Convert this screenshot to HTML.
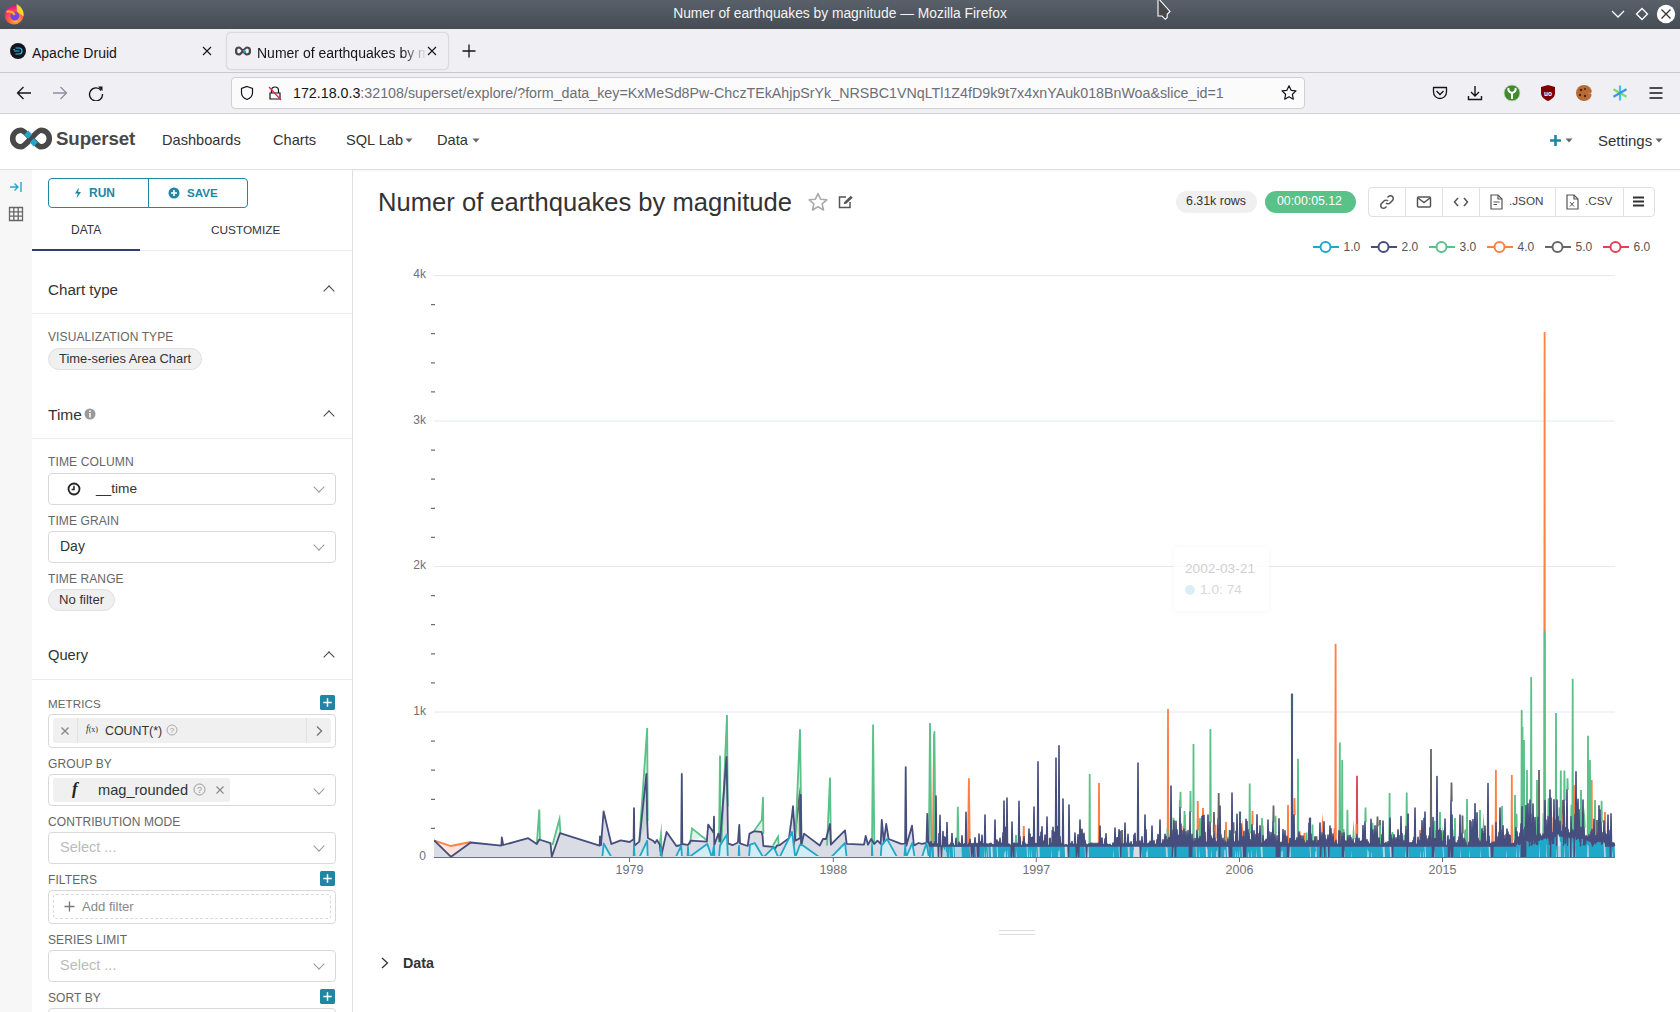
<!DOCTYPE html>
<html><head><meta charset="utf-8">
<style>
*{box-sizing:border-box;margin:0;padding:0}
html,body{width:1680px;height:1012px;overflow:hidden;background:#fff;font-family:"Liberation Sans",sans-serif;color:#333}
.a{position:absolute}
#titlebar{left:0;top:0;width:1680px;height:29px;background:linear-gradient(#58606a,#464c54);color:#f4f4f4;font-size:13.8px;text-align:center;line-height:28px}
#tabbar{left:0;top:29px;width:1680px;height:44px;background:#f0f0f4;border-bottom:1px solid #c8c8cc}
#toolbar{left:0;top:73px;width:1680px;height:41px;background:#f0f0f4;border-bottom:1px solid #cfcfd3}
.tab{font-size:14px;color:#15141a;white-space:nowrap;margin-top:1.5px}
#urlbox{left:231px;top:77px;width:1074px;height:32px;background:#fbfbfc;border:1px solid #cfcfd4;border-radius:4px}
#nav{left:0;top:114px;width:1680px;height:56px;background:#fff;border-bottom:1px solid #e0e0e0;box-shadow:0 1px 1px rgba(0,0,0,0.04)}
.navi{font-size:14.6px;color:#333;white-space:nowrap;top:132px}
#leftstrip{left:0;top:170px;width:32px;height:842px;background:#f7f7f7}
#sidebar{left:32px;top:170px;width:321px;height:842px;background:#fff;border-right:1px solid #e0e0e0}
.lbl{font-size:12px;color:#666;white-space:nowrap;letter-spacing:0.1px}
.sect{font-size:15.2px;color:#333;white-space:nowrap}
.hr{height:1px;background:#ececec}
.sel{border:1px solid #d9d9d9;border-radius:4px;background:#fff;height:32px;width:288px;left:48px}
.pill{background:#f0f0f0;border:1px solid #e0e0e0;border-radius:12px;font-size:12.9px;color:#333;height:22px;line-height:20px;padding:0 10px;white-space:nowrap}
.plus{width:15px;height:15px;background:#1f86a3;border-radius:2px;left:320px}
.chev{width:8px;height:8px;border-left:1.3px solid #444;border-top:1.3px solid #444;transform:rotate(45deg)}
.dchev{width:8px;height:8px;border-right:1px solid #999;border-bottom:1px solid #999;transform:rotate(45deg)}
</style></head><body>
<div id="titlebar" class="a">Numer of earthquakes by magnitude — Mozilla Firefox</div>
<div id="tabbar" class="a"></div>
<div id="toolbar" class="a"></div>

<!-- title bar icons -->
<svg class="a" style="left:3px;top:3px" width="22" height="22" viewBox="0 0 22 22">
<defs><radialGradient id="ffg" cx="0.6" cy="0.75" r="0.75"><stop offset="0" stop-color="#ffbd4f"/><stop offset="0.45" stop-color="#ff6a3a"/><stop offset="1" stop-color="#e31587"/></radialGradient></defs>
<circle cx="11" cy="12.2" r="9.4" fill="url(#ffg)"/><path d="M13.5 1 C19 4 21.5 9 20.4 13.5 L14 8.5 Z" fill="#ffd43b"/><circle cx="11.8" cy="13.2" r="4.4" fill="#7542e5"/><path d="M3.5 9 C7 7.5 10.5 9 11.5 12" stroke="#ffa436" stroke-width="2.4" fill="none"/>
</svg>
<svg class="a" style="left:1150px;top:-4px" width="26" height="28" viewBox="1150 -4 26 28"><path d="M1158 -2 L1158 16 L1162 16 L1165.3 19.3 L1167.2 17.4 L1167.2 14.3 L1170 11.5 Z" fill="#484848" stroke="#fff" stroke-width="1.1" stroke-linejoin="miter"/></svg>
<svg class="a" style="left:1610px;top:8px" width="16" height="12" viewBox="0 0 16 12"><path d="M2 3 L8 9 L14 3" stroke="#fff" stroke-width="1.3" fill="none"/></svg>
<svg class="a" style="left:1634px;top:6px" width="16" height="16" viewBox="0 0 16 16"><path d="M8 2.5 L13.5 8 L8 13.5 L2.5 8 Z" stroke="#fff" stroke-width="1.3" fill="none"/></svg>
<svg class="a" style="left:1656px;top:4px" width="20" height="20" viewBox="0 0 20 20"><circle cx="10" cy="10" r="9.2" fill="#fff"/><path d="M5.5 5.5 L14.5 14.5 M14.5 5.5 L5.5 14.5" stroke="#333" stroke-width="1.3"/></svg>
<!-- tabs -->
<svg class="a" style="left:10px;top:43px" width="16" height="16" viewBox="0 0 16 16"><circle cx="8" cy="8" r="8" fill="#15151e"/><path d="M5.5 5 H9 A3 3 0 0 1 9 11 H5.5 M4 8 H9.5 M3.5 6.5 H5" stroke="#29c5e8" stroke-width="1.2" fill="none"/></svg>
<div class="a tab" style="left:32px;top:43px">Apache Druid</div>
<svg class="a" style="left:201px;top:45px" width="12" height="12" viewBox="0 0 12 12"><path d="M2 2 L10 10 M10 2 L2 10" stroke="#15141a" stroke-width="1.1"/></svg>
<div class="a" style="left:227px;top:33px;width:221px;height:36px;border-radius:4px;background:#f0f0f4;box-shadow:0 0 2px rgba(0,0,0,0.35)"></div>
<svg class="a" style="left:235px;top:46px" width="16" height="10" viewBox="0 0 16 10"><path d="M4 1.5 C1.5 1.5 1 4 1 5 C1 6 1.5 8.5 4 8.5 C6.5 8.5 9.5 1.5 12 1.5 C14.5 1.5 15 4 15 5 C15 6 14.5 8.5 12 8.5 C9.5 8.5 6.5 1.5 4 1.5 Z" stroke="#484848" stroke-width="2.2" fill="none"/><path d="M8.6 4.2 L10.4 6.5" stroke="#20a7c9" stroke-width="2.2"/></svg>
<div class="a tab" style="left:257px;top:43px;width:170px;overflow:hidden;-webkit-mask-image:linear-gradient(90deg,#000 85%,transparent)">Numer of earthquakes by magnitude</div>
<svg class="a" style="left:426px;top:45px" width="12" height="12" viewBox="0 0 12 12"><path d="M2 2 L10 10 M10 2 L2 10" stroke="#15141a" stroke-width="1.1"/></svg>
<svg class="a" style="left:461px;top:43px" width="16" height="16" viewBox="0 0 16 16"><path d="M8 1.5 V14.5 M1.5 8 H14.5" stroke="#15141a" stroke-width="1.3"/></svg>
<!-- toolbar -->
<svg class="a" style="left:15px;top:85px" width="18" height="16" viewBox="0 0 18 16"><path d="M16 8 H2.5 M8.5 2 L2.5 8 L8.5 14" stroke="#15141a" stroke-width="1.3" fill="none"/></svg>
<svg class="a" style="left:51px;top:85px" width="18" height="16" viewBox="0 0 18 16"><path d="M2 8 H15.5 M9.5 2 L15.5 8 L9.5 14" stroke="#8f8f9d" stroke-width="1.3" fill="none"/></svg>
<svg class="a" style="left:87px;top:85px" width="18" height="16" viewBox="0 0 18 16"><path d="M14.2 5.5 A6.5 6.5 0 1 0 15.5 9" stroke="#15141a" stroke-width="1.4" fill="none"/><path d="M11 1.5 L15.5 1.5 L15.5 6 Z" fill="#15141a"/></svg>
<div id="urlbox" class="a"></div>
<svg class="a" style="left:239px;top:85px" width="16" height="16" viewBox="0 0 16 16"><path d="M8 1.5 L13.5 3.5 V8 C13.5 11.5 10.5 13.5 8 14.5 C5.5 13.5 2.5 11.5 2.5 8 V3.5 Z" stroke="#15141a" stroke-width="1.2" fill="none"/></svg>
<svg class="a" style="left:267px;top:85px" width="16" height="16" viewBox="0 0 16 16"><path d="M4.5 7.5 V5.5 A3.5 3.5 0 0 1 11.5 5.5 V7.5 M3 8 H13 V14 H3 Z" stroke="#15141a" stroke-width="1.2" fill="none"/><path d="M2 2 L14 15" stroke="#e22850" stroke-width="1.3"/></svg>
<div class="a" style="left:293px;top:85px;font-size:14.25px;white-space:nowrap;color:#15141a">172.18.0.3<span style="color:#6e6e76">:32108/superset/explore/?form_data_key=KxMeSd8Pw-ChczTEkAhjpSrYk_NRSBC1VNqLTl1Z4fD9k9t7x4xnYAuk018BnWoa&amp;slice_id=1</span></div>
<svg class="a" style="left:1280px;top:84px" width="18" height="18" viewBox="0 0 18 18"><path d="M9 1.8 L11.1 6.3 L16 6.9 L12.4 10.3 L13.3 15.2 L9 12.8 L4.7 15.2 L5.6 10.3 L2 6.9 L6.9 6.3 Z" stroke="#15141a" stroke-width="1.2" fill="none" stroke-linejoin="round"/></svg>
<svg class="a" style="left:1431px;top:85px" width="18" height="16" viewBox="0 0 18 16"><path d="M2.5 2.5 H15.5 V7 A6.5 6.5 0 0 1 2.5 7 Z" stroke="#15141a" stroke-width="1.3" fill="none" stroke-linejoin="round"/><path d="M5.5 6 L9 9.5 L12.5 6" stroke="#15141a" stroke-width="1.4" fill="none"/></svg>
<svg class="a" style="left:1466px;top:84px" width="18" height="18" viewBox="0 0 18 18"><path d="M9 2 V12 M5 8 L9 12 L13 8 M2.5 12 V15.5 H15.5 V12" stroke="#15141a" stroke-width="1.4" fill="none"/></svg>
<svg class="a" style="left:1503px;top:84px" width="18" height="18" viewBox="0 0 18 18"><circle cx="9" cy="9" r="8" fill="#3f8b2f" stroke="#c9d9c0" stroke-width="0.8"/><path d="M9 15 V9 M9 9 C6 8 5 6 5.5 4 M9 9 C12 8 13 6 12.5 4" stroke="#fff" stroke-width="2" fill="none"/></svg>
<svg class="a" style="left:1539px;top:84px" width="18" height="18" viewBox="0 0 18 18"><path d="M9 1 L16 3 V9 C16 13 12.5 15.5 9 17 C5.5 15.5 2 13 2 9 V3 Z" fill="#800000"/><text x="9" y="11.5" font-size="6.5" font-family="Liberation Sans" font-weight="700" fill="#fff" text-anchor="middle">uo</text></svg>
<svg class="a" style="left:1575px;top:84px" width="18" height="18" viewBox="0 0 18 18"><circle cx="9" cy="9" r="8" fill="#b86b35"/><path d="M17 5 A3 3 0 0 1 13 9 A3 3 0 0 1 16 14 L17 17 Z" fill="#f0f0f4"/><circle cx="6" cy="6" r="1.3" fill="#4a2a10"/><circle cx="5" cy="11" r="1.2" fill="#4a2a10"/><circle cx="10" cy="12" r="1.2" fill="#4a2a10"/><circle cx="10" cy="5" r="1" fill="#4a2a10"/></svg>
<svg class="a" style="left:1611px;top:84px" width="18" height="18" viewBox="0 0 18 18"><path d="M9 1.5 V16.5" stroke="#3ec1ef" stroke-width="2.2"/><path d="M2.5 5.2 L15.5 12.8" stroke="#7adf5a" stroke-width="2.2"/><path d="M15.5 5.2 L2.5 12.8" stroke="#3d8ff0" stroke-width="2.2"/></svg>
<svg class="a" style="left:1647px;top:85px" width="18" height="16" viewBox="0 0 18 16"><path d="M2.5 3 H15.5 M2.5 8 H15.5 M2.5 13 H15.5" stroke="#15141a" stroke-width="1.4"/></svg>
<div id="nav" class="a"></div>
<svg class="a" style="left:9px;top:127px" width="44" height="23" viewBox="0 0 44 23">
<path d="M12 3.2 A8.3 8.3 0 1 0 12 19.8 C17 19.8 27 3.2 32 3.2 A8.3 8.3 0 1 1 32 19.8 C27 19.8 17 3.2 12 3.2 Z" stroke="#484848" stroke-width="5.6" fill="none"/>
<path d="M17.2 5.6 L21.2 9.6 M22.8 13.4 L26.8 17.4" stroke="#20a7c9" stroke-width="5.8"/>
</svg>
<div class="a" style="left:56px;top:128px;font-size:18.7px;font-weight:700;color:#484848;white-space:nowrap;letter-spacing:-0.1px">Superset</div>
<div class="a navi" style="left:162px">Dashboards</div>
<div class="a navi" style="left:273px">Charts</div>
<div class="a navi" style="left:346px">SQL Lab</div>
<svg class="a" style="left:405px;top:138px" width="8" height="5"><path d="M0.5 0.5 H7.5 L4 4.5 Z" fill="#666"/></svg>
<div class="a navi" style="left:437px">Data</div>
<svg class="a" style="left:472px;top:138px" width="8" height="5"><path d="M0.5 0.5 H7.5 L4 4.5 Z" fill="#666"/></svg>
<svg class="a" style="left:1549px;top:134px" width="13" height="13" viewBox="0 0 13 13"><path d="M6.5 1 V12 M1 6.5 H12" stroke="#1f86a3" stroke-width="2.6"/></svg>
<svg class="a" style="left:1565px;top:138px" width="8" height="5"><path d="M0.5 0.5 H7.5 L4 4.5 Z" fill="#666"/></svg>
<div class="a navi" style="left:1598px;font-size:15px">Settings</div>
<svg class="a" style="left:1655px;top:138px" width="8" height="5"><path d="M0.5 0.5 H7.5 L4 4.5 Z" fill="#666"/></svg>

<div id="leftstrip" class="a"></div>
<div id="sidebar" class="a"></div>
<!-- left strip icons -->
<svg class="a" style="left:9px;top:181px" width="14" height="12" viewBox="0 0 14 12"><path d="M1 6 H9 M5.5 2.5 L9 6 L5.5 9.5 M12 1 V11" stroke="#20a7c9" stroke-width="1.4" fill="none"/></svg>
<svg class="a" style="left:8px;top:206px" width="16" height="16" viewBox="0 0 16 16"><path d="M1.5 1.5 H14.5 V14.5 H1.5 Z M1.5 5.8 H14.5 M1.5 10.2 H14.5 M5.8 1.5 V14.5 M10.2 1.5 V14.5" stroke="#666" stroke-width="1.3" fill="none"/></svg>
<!-- run/save -->
<div class="a" style="left:48px;top:178px;width:200px;height:30px;border:1px solid #1f86a3;border-radius:4px"></div>
<div class="a" style="left:148px;top:178px;width:1px;height:30px;background:#1f86a3"></div>
<svg class="a" style="left:74px;top:187px" width="8" height="12" viewBox="0 0 8 12"><path d="M5 0.5 L1 6.5 H3.8 L2.5 11.5 L7 5 H4.2 Z" fill="#1f86a3"/></svg>
<div class="a" style="left:89px;top:186px;font-size:12px;font-weight:700;color:#1f86a3">RUN</div>
<svg class="a" style="left:168px;top:187px" width="12" height="12" viewBox="0 0 12 12"><circle cx="6" cy="6" r="5.5" fill="#1f86a3"/><path d="M6 3 V9 M3 6 H9" stroke="#fff" stroke-width="1.6"/></svg>
<div class="a" style="left:187px;top:186px;font-size:11.6px;font-weight:700;color:#1f86a3">SAVE</div>
<!-- tabs -->
<div class="a" style="left:71px;top:223px;font-size:12px;color:#333">DATA</div>
<div class="a" style="left:211px;top:223px;font-size:11.8px;color:#333">CUSTOMIZE</div>
<div class="a hr" style="left:32px;top:250px;width:320px"></div>
<div class="a" style="left:32px;top:249px;width:108px;height:2px;background:#323e73"></div>
<!-- chart type -->
<div class="a sect" style="left:48px;top:281px">Chart type</div>
<div class="a chev" style="left:325px;top:287px"></div>
<div class="a hr" style="left:32px;top:313px;width:320px"></div>
<div class="a lbl" style="left:48px;top:330px">VISUALIZATION TYPE</div>
<div class="a pill" style="left:48px;top:348px;font-size:12.9px">Time-series Area Chart</div>
<!-- time -->
<div class="a sect" style="left:48px;top:406px;font-size:15.5px">Time</div>
<svg class="a" style="left:84px;top:408px" width="12" height="12" viewBox="0 0 12 12"><circle cx="6" cy="6" r="5.5" fill="#999"/><path d="M6 5 V9.5" stroke="#fff" stroke-width="1.5"/><circle cx="6" cy="3.2" r="0.9" fill="#fff"/></svg>
<div class="a chev" style="left:325px;top:412px"></div>
<div class="a hr" style="left:32px;top:438px;width:320px"></div>
<div class="a lbl" style="left:48px;top:455px;font-size:12.1px">TIME COLUMN</div>
<div class="a sel" style="top:473px"></div>
<svg class="a" style="left:67px;top:482px" width="14" height="14" viewBox="0 0 14 14"><circle cx="7" cy="7" r="5.5" stroke="#222" stroke-width="1.8" fill="none"/><path d="M7 3.8 V7.4 H4.6" stroke="#222" stroke-width="1.5" fill="none"/></svg>
<div class="a" style="left:96px;top:481px;font-size:13.7px;color:#333">__time</div>
<div class="a dchev" style="left:315px;top:483px"></div>
<div class="a lbl" style="left:48px;top:514px">TIME GRAIN</div>
<div class="a sel" style="top:531px"></div>
<div class="a" style="left:60px;top:538px;font-size:14px;color:#333">Day</div>
<div class="a dchev" style="left:315px;top:541px"></div>
<div class="a lbl" style="left:48px;top:572px">TIME RANGE</div>
<div class="a pill" style="left:48px;top:589px;font-size:13.1px;padding:0 10px">No filter</div>
<!-- query -->
<div class="a sect" style="left:48px;top:647px;font-size:14.7px">Query</div>
<div class="a chev" style="left:325px;top:653px"></div>
<div class="a hr" style="left:32px;top:679px;width:320px"></div>
<div class="a lbl" style="left:48px;top:697px;font-size:11.6px">METRICS</div>
<svg class="a plus" style="top:695px" width="16" height="16" viewBox="0 0 16 16"><rect width="16" height="16" rx="2" fill="#1f86a3"/><path d="M8 3.5 V12.5 M3.5 8 H12.5" stroke="#fff" stroke-width="1.6"/></svg>
<div class="a" style="left:48px;top:714px;width:288px;height:34px;border:1px solid #d9d9d9;border-radius:4px"></div>
<div class="a" style="left:53px;top:718px;width:278px;height:25px;background:#f0f0f0;border-radius:3px"></div>
<div class="a" style="left:77px;top:718px;width:1px;height:25px;background:#e0e0e0"></div>
<div class="a" style="left:306px;top:718px;width:1px;height:25px;background:#e0e0e0"></div>
<svg class="a" style="left:60px;top:726px" width="10" height="10" viewBox="0 0 10 10"><path d="M1.5 1.5 L8.5 8.5 M8.5 1.5 L1.5 8.5" stroke="#888" stroke-width="1.4"/></svg>
<div class="a" style="left:86px;top:724px;font-size:9.5px;font-style:italic;color:#333;font-family:'Liberation Serif',serif">f<span style="font-style:normal;font-size:8px">(x)</span></div>
<div class="a" style="left:105px;top:724px;font-size:12.4px;color:#333">COUNT(*)</div>
<svg class="a" style="left:166px;top:724px" width="12" height="12" viewBox="0 0 12 12"><circle cx="6" cy="6" r="5" stroke="#aaa" stroke-width="1" fill="none"/><text x="6" y="9" font-size="8" text-anchor="middle" fill="#999" font-family="Liberation Sans">?</text></svg>
<svg class="a" style="left:314px;top:725px" width="10" height="12" viewBox="0 0 10 12"><path d="M3 1.5 L7.5 6 L3 10.5" stroke="#777" stroke-width="1.4" fill="none"/></svg>
<div class="a lbl" style="left:48px;top:757px">GROUP BY</div>
<div class="a" style="left:48px;top:774px;width:288px;height:32px;border:1px solid #d9d9d9;border-radius:4px"></div>
<div class="a" style="left:53px;top:778px;width:177px;height:24px;background:#f0f0f0;border-radius:2px"></div>
<div class="a" style="left:72px;top:779px;font-size:17px;font-weight:700;font-style:italic;color:#222;font-family:'Liberation Serif',serif">f</div>
<div class="a" style="left:98px;top:782px;font-size:14.6px;color:#333">mag_rounded</div>
<svg class="a" style="left:193px;top:783px" width="13" height="13" viewBox="0 0 13 13"><circle cx="6.5" cy="6.5" r="5.5" stroke="#999" stroke-width="1" fill="none"/><text x="6.5" y="9.8" font-size="9" text-anchor="middle" fill="#999" font-family="Liberation Sans">?</text></svg>
<svg class="a" style="left:215px;top:785px" width="10" height="10" viewBox="0 0 10 10"><path d="M1.5 1.5 L8.5 8.5 M8.5 1.5 L1.5 8.5" stroke="#888" stroke-width="1.1"/></svg>
<div class="a dchev" style="left:315px;top:785px"></div>
<div class="a lbl" style="left:48px;top:815px">CONTRIBUTION MODE</div>
<div class="a sel" style="top:832px"></div>
<div class="a" style="left:60px;top:839px;font-size:14.5px;color:#bbb">Select ...</div>
<div class="a dchev" style="left:315px;top:842px"></div>
<div class="a lbl" style="left:48px;top:873px">FILTERS</div>
<svg class="a plus" style="top:871px" width="16" height="16" viewBox="0 0 16 16"><rect width="16" height="16" rx="2" fill="#1f86a3"/><path d="M8 3.5 V12.5 M3.5 8 H12.5" stroke="#fff" stroke-width="1.6"/></svg>
<div class="a" style="left:48px;top:890px;width:288px;height:34px;border:1px solid #d9d9d9;border-radius:4px"></div>
<div class="a" style="left:53px;top:894px;width:278px;height:25px;border:1px dashed #d9d9d9;border-radius:3px"></div>
<svg class="a" style="left:64px;top:901px" width="11" height="11" viewBox="0 0 11 11"><path d="M5.5 0.5 V10.5 M0.5 5.5 H10.5" stroke="#777" stroke-width="1.3"/></svg>
<div class="a" style="left:82px;top:899px;font-size:13.1px;color:#888">Add filter</div>
<div class="a lbl" style="left:48px;top:933px">SERIES LIMIT</div>
<div class="a sel" style="top:950px"></div>
<div class="a" style="left:60px;top:957px;font-size:14.5px;color:#bbb">Select ...</div>
<div class="a dchev" style="left:315px;top:960px"></div>
<div class="a lbl" style="left:48px;top:991px">SORT BY</div>
<svg class="a plus" style="top:989px" width="16" height="16" viewBox="0 0 16 16"><rect width="16" height="16" rx="2" fill="#1f86a3"/><path d="M8 3.5 V12.5 M3.5 8 H12.5" stroke="#fff" stroke-width="1.6"/></svg>
<div class="a" style="left:48px;top:1008px;width:288px;height:34px;border:1px solid #d9d9d9;border-radius:4px"></div>


<!-- chart header -->
<div class="a" style="left:378px;top:188px;font-size:25.6px;color:#333;white-space:nowrap">Numer of earthquakes by magnitude</div>
<svg class="a" style="left:807px;top:192px" width="22" height="20" viewBox="0 0 22 20"><path d="M11 1.5 L13.6 7.2 L19.8 7.8 L15.1 11.9 L16.5 18 L11 14.8 L5.5 18 L6.9 11.9 L2.2 7.8 L8.4 7.2 Z" stroke="#aaa" stroke-width="1.6" fill="none" stroke-linejoin="round"/></svg>
<svg class="a" style="left:837px;top:194px" width="18" height="16" viewBox="0 0 18 16"><path d="M9 3 H2.5 V13.5 H13 V8" stroke="#555" stroke-width="1.5" fill="none"/><path d="M6.8 10.2 L7.3 8 L13.8 1.8 L15.7 3.7 L9.2 9.8 Z" fill="#555"/></svg>
<div class="a" style="left:1176px;top:191px;width:81px;height:22px;border-radius:11px;background:#f0f0f0"></div>
<div class="a" style="left:1186px;top:194px;font-size:12.4px;color:#333;white-space:nowrap">6.31k rows</div>
<div class="a" style="left:1265px;top:191px;width:91px;height:22px;border-radius:11px;background:#5ac189"></div>
<div class="a" style="left:1277px;top:194px;font-size:12.3px;color:#fff;white-space:nowrap">00:00:05.12</div>
<div class="a" style="left:1368px;top:187px;width:287px;height:30px;border:1px solid #e0e0e0;border-radius:4px"></div>
<div class="a" style="left:1405px;top:188px;width:1px;height:28px;background:#e0e0e0"></div>
<div class="a" style="left:1442px;top:188px;width:1px;height:28px;background:#e0e0e0"></div>
<div class="a" style="left:1479px;top:188px;width:1px;height:28px;background:#e0e0e0"></div>
<div class="a" style="left:1555px;top:188px;width:1px;height:28px;background:#e0e0e0"></div>
<div class="a" style="left:1623px;top:188px;width:1px;height:28px;background:#e0e0e0"></div>
<svg class="a" style="left:1379px;top:194px" width="16" height="16" viewBox="0 0 16 16"><path d="M7 9 C8 10 10 10 11 9 L13.5 6.5 C14.5 5.5 14.5 3.5 13.5 2.5 C12.5 1.5 10.5 1.5 9.5 2.5 L8.5 3.5 M9 7 C8 6 6 6 5 7 L2.5 9.5 C1.5 10.5 1.5 12.5 2.5 13.5 C3.5 14.5 5.5 14.5 6.5 13.5 L7.5 12.5" stroke="#555" stroke-width="1.5" fill="none"/></svg>
<svg class="a" style="left:1416px;top:195px" width="16" height="14" viewBox="0 0 16 14"><rect x="1.5" y="2" width="13" height="10" rx="1" stroke="#555" stroke-width="1.5" fill="none"/><path d="M2 3 L8 7.5 L14 3" stroke="#555" stroke-width="1.5" fill="none"/></svg>
<svg class="a" style="left:1453px;top:195px" width="16" height="14" viewBox="0 0 16 14"><path d="M5 3 L1.5 7 L5 11 M11 3 L14.5 7 L11 11" stroke="#555" stroke-width="1.5" fill="none"/></svg>
<svg class="a" style="left:1490px;top:194px" width="13" height="16" viewBox="0 0 13 16"><path d="M1 1 H8 L12 5 V15 H1 Z" stroke="#555" stroke-width="1.2" fill="none"/><path d="M8 1 V5 H12" stroke="#555" stroke-width="1.2" fill="none"/><path d="M3.5 8 H9.5 M3.5 10.5 H7" stroke="#555" stroke-width="1.2"/></svg>
<div class="a" style="left:1509px;top:194px;font-size:11.7px;color:#444;white-space:nowrap">.JSON</div>
<svg class="a" style="left:1566px;top:194px" width="13" height="16" viewBox="0 0 13 16"><path d="M1 1 H8 L12 5 V15 H1 Z" stroke="#555" stroke-width="1.2" fill="none"/><path d="M8 1 V5 H12" stroke="#555" stroke-width="1.2" fill="none"/><path d="M4 8 L8 12.5 M8 8 L4 12.5" stroke="#555" stroke-width="1"/></svg>
<div class="a" style="left:1585px;top:194px;font-size:11.7px;color:#444;white-space:nowrap">.CSV</div>
<svg class="a" style="left:1632px;top:195px" width="13" height="13" viewBox="0 0 13 13"><path d="M1 2.5 H12 M1 6.5 H12 M1 10.5 H12" stroke="#333" stroke-width="2"/></svg>
<!-- bottom -->
<div class="a" style="left:999px;top:930px;width:36px;height:1px;background:#ddd"></div>
<div class="a" style="left:999px;top:934px;width:36px;height:1px;background:#ddd"></div>
<svg class="a" style="left:379px;top:956px" width="12" height="14" viewBox="0 0 12 14"><path d="M3 2 L8.5 7 L3 12" stroke="#333" stroke-width="1.3" fill="none"/></svg>
<div class="a" style="left:403px;top:955px;font-size:14.3px;font-weight:700;color:#333">Data</div>
<svg class="a" style="left:0;top:0" width="1680" height="1012" viewBox="0 0 1680 1012"><defs><clipPath id="cp"><rect x="434" y="250" width="1182" height="607.5"/></clipPath><clipPath id="cp2"><rect x="434" y="250" width="1182" height="605.9"/></clipPath></defs>
<path d="M434 275.5H1615" stroke="#e3e8f2" stroke-width="1"/>
<path d="M434 421H1615" stroke="#e3e8f2" stroke-width="1"/>
<path d="M434 566.5H1615" stroke="#e3e8f2" stroke-width="1"/>
<path d="M434 712H1615" stroke="#e3e8f2" stroke-width="1"/>
<path d="M431 828.4H435M431 799.3H435M431 770.2H435M431 741.1H435M431 682.9H435M431 653.8H435M431 624.7H435M431 595.6H435M431 537.4H435M431 508.3H435M431 479.2H435M431 450.1H435M431 391.9H435M431 362.8H435M431 333.7H435M431 304.6H435" stroke="#6e7079" stroke-width="1.2"/>
<text x="426" y="278.1" text-anchor="end" font-size="12" fill="#6e7079" font-family="Liberation Sans">4k</text>
<text x="426" y="423.6" text-anchor="end" font-size="12" fill="#6e7079" font-family="Liberation Sans">3k</text>
<text x="426" y="569.1" text-anchor="end" font-size="12" fill="#6e7079" font-family="Liberation Sans">2k</text>
<text x="426" y="714.6" text-anchor="end" font-size="12" fill="#6e7079" font-family="Liberation Sans">1k</text>
<text x="426" y="860.1" text-anchor="end" font-size="12" fill="#6e7079" font-family="Liberation Sans">0</text>
<g clip-path="url(#cp)">
<path d="M434 840.7L434.5 840.7L451 856.8L470.7 842.5L501.4 845.7L501.8 837.5L503.2 845L528.2 838.2L536.8 844L539.3 839.5L550.5 843.2L551.8 856.8L560 833.2L599.6 845.7L600 836.3L601 845.2L602.3 828.3L603.6 811.3L603.7 811.7L611.3 844L611.6 843.9L620.7 840.4L629.6 842L633.6 839.3L634 808.2L634.4 845.7L634.6 845.5L639.3 841.6L646.4 774L647.2 821L647.7 833.1L647.9 838L653 840.7L655 843L657 840L659.8 844.7L660.5 851.9L661 847L661.5 854.8L666.6 832L675.7 845L676.4 846L681.2 845L681.8 774L682 802L682.3 844L687.5 844.9L688 845L688.6 844L690.7 840.7L706.8 841.6L707.3 835.5L708.2 824.6L712 830.3L713.6 832.7L714 816.6L714.3 845L714.4 844.7L718.4 833.6L719 836.6L720 841.6L726.5 756.8L727 781.9L727.5 807L727.8 828.8L728 843.4L732.5 845.2L737.9 842.5L738.6 833.7L739 828.7L739.3 825L739.5 830.3L740 843.4L747.7 846L749 837L749.5 833.6L750 833.4L754 831.4L754.7 831.4L761.4 831.8L762.5 835.4L763.4 846L773.6 846.9L773.7 847L774.7 849.2L777 845.5L778.4 845.3L779.5 845.2L789 838.1L792 815.6L793 806.2L795.3 840.7L800 838.1L800.2 838L800.8 795L801.4 844.7L803 837.9L804 833.6L819.8 845.5L823 839L826 839L830 824L830.9 844.7L845 830.4L846.7 843.9L864 844.7L865.7 836L868 844.7L871.2 839L871.8 839.9L872 840.3L872.5 841.1L874.3 843.9L877.5 840.7L880.7 843.9L881.5 826.4L881.8 819.8L883.8 842.3L886.2 824L887 829L888.6 839L897.3 842.4L901.2 843.9L904.4 843.6L905.1 843.5L905.2 830.8L905.7 767.2L906 800.8L906.4 845.5L912 825.7L912.3 828.8L913.9 845.5L914.7 845.1L918.6 843L921.8 843.9L926.5 843L927.3 813.8L928.2 842.3L928.9 843L929 843L929 857.5L928.9 857.5L928.2 853.3L927.3 847.8L926.5 843L921.8 857.5L918.6 857.5L914.7 857.5L913.9 852.7L912.3 843L912 843.7L906.4 856.6L906 857.5L905.7 853L905.2 845.5L905.1 847L904.4 857.5L901.2 857.5L897.3 857.5L888.6 841.9L887 839L886.2 839.9L883.8 842.8L881.8 845.1L881.5 845.5L880.7 857.5L877.5 857.5L874.3 857.5L872.5 857.5L872 845.5L871.8 857.5L871.2 857.5L868 857.5L865.7 857.5L864 857.5L846.7 857.5L845 843L830.9 857.5L830 857.5L826 857.5L823 857.5L819.8 857.5L804 846.2L803 845.5L801.4 845.1L800.8 844.9L800.2 844.8L800 844.7L795.3 857.5L793 839.7L792 832L789 838.1L779.5 857.5L778.4 857.5L777 854.4L774.7 849.2L773.7 847L773.6 847.1L763.4 857.5L762.5 856L761.4 854.2L754.7 843L754 843.3L750 844.7L749.5 851.1L749 857.5L747.7 857.5L740 857.5L739.5 857.5L739.3 852.9L739 846L738.6 857.5L737.9 857.5L732.5 857.5L728 857.5L727.8 857.5L727.5 848.8L727 834.4L726.5 835.2L720 845.5L719 857.5L718.4 857.5L714.4 857.5L714.3 854.5L714 845.5L713.6 847.9L712 857.5L708.2 846.5L707.3 843.9L706.8 844.3L690.7 856L688.6 857.5L688 847L687.5 857.5L682.3 857.5L682 857.5L681.8 854.5L681.2 845.5L676.4 856L675.7 857.5L666.6 857.5L661.5 857.5L661 847L660.5 857.5L659.8 857.5L657 857.5L655 857.5L653 857.5L647.9 857.5L647.7 857.5L647.2 840.7L646.4 842.4L639.3 857.5L634.6 857.5L634.4 853.5L634 845.5L633.6 857.5L629.6 857.5L620.7 857.5L611.6 857.5L611.3 857L603.7 843.5L603.6 844.5L602.3 857.5L601 857.5L600 857.5L599.6 857.5L560 857.5L551.8 857.5L550.5 857.5L539.3 857.5L536.8 857.5L528.2 857.5L503.2 857.5L501.8 857.5L501.4 857.5L470.7 857.5L451 857.5L434.5 857.5L434 857.5Z" fill="#454E7C" fill-opacity="0.2"/>
<path d="M434 857.5L434.5 857.5L451 857.5L470.7 857.5L501.4 857.5L501.8 857.5L503.2 857.5L528.2 857.5L536.8 857.5L539.3 857.5L550.5 857.5L551.8 857.5L560 857.5L599.6 857.5L600 857.5L601 857.5L602.3 857.5L603.6 844.5L603.7 843.5L611.3 857L611.6 857.5L620.7 857.5L629.6 857.5L633.6 857.5L634 845.5L634.4 853.5L634.6 857.5L639.3 857.5L646.4 842.4L647.2 840.7L647.7 857.5L647.9 857.5L653 857.5L655 857.5L657 857.5L659.8 857.5L660.5 857.5L661 847L661.5 857.5L666.6 857.5L675.7 857.5L676.4 856L681.2 845.5L681.8 854.5L682 857.5L682.3 857.5L687.5 857.5L688 847L688.6 857.5L690.7 856L706.8 844.3L707.3 843.9L708.2 846.5L712 857.5L713.6 847.9L714 845.5L714.3 854.5L714.4 857.5L718.4 857.5L719 857.5L720 845.5L726.5 835.2L727 834.4L727.5 848.8L727.8 857.5L728 857.5L732.5 857.5L737.9 857.5L738.6 857.5L739 846L739.3 852.9L739.5 857.5L740 857.5L747.7 857.5L749 857.5L749.5 851.1L750 844.7L754 843.3L754.7 843L761.4 854.2L762.5 856L763.4 857.5L773.6 847.1L773.7 847L774.7 849.2L777 854.4L778.4 857.5L779.5 857.5L789 838.1L792 832L793 839.7L795.3 857.5L800 844.7L800.2 844.8L800.8 844.9L801.4 845.1L803 845.5L804 846.2L819.8 857.5L823 857.5L826 857.5L830 857.5L830.9 857.5L845 843L846.7 857.5L864 857.5L865.7 857.5L868 857.5L871.2 857.5L871.8 857.5L872 845.5L872.5 857.5L874.3 857.5L877.5 857.5L880.7 857.5L881.5 845.5L881.8 845.1L883.8 842.8L886.2 839.9L887 839L888.6 841.9L897.3 857.5L901.2 857.5L904.4 857.5L905.1 847L905.2 845.5L905.7 853L906 857.5L906.4 856.6L912 843.7L912.3 843L913.9 852.7L914.7 857.5L918.6 857.5L921.8 857.5L926.5 843L927.3 847.8L928.2 853.3L928.9 857.5L929 857.5L929 857.5L928.9 857.5L928.2 857.5L927.3 857.5L926.5 857.5L921.8 857.5L918.6 857.5L914.7 857.5L913.9 857.5L912.3 857.5L912 857.5L906.4 857.5L906 857.5L905.7 857.5L905.2 857.5L905.1 857.5L904.4 857.5L901.2 857.5L897.3 857.5L888.6 857.5L887 857.5L886.2 857.5L883.8 857.5L881.8 857.5L881.5 857.5L880.7 857.5L877.5 857.5L874.3 857.5L872.5 857.5L872 857.5L871.8 857.5L871.2 857.5L868 857.5L865.7 857.5L864 857.5L846.7 857.5L845 857.5L830.9 857.5L830 857.5L826 857.5L823 857.5L819.8 857.5L804 857.5L803 857.5L801.4 857.5L800.8 857.5L800.2 857.5L800 857.5L795.3 857.5L793 857.5L792 857.5L789 857.5L779.5 857.5L778.4 857.5L777 857.5L774.7 857.5L773.7 857.5L773.6 857.5L763.4 857.5L762.5 857.5L761.4 857.5L754.7 857.5L754 857.5L750 857.5L749.5 857.5L749 857.5L747.7 857.5L740 857.5L739.5 857.5L739.3 857.5L739 857.5L738.6 857.5L737.9 857.5L732.5 857.5L728 857.5L727.8 857.5L727.5 857.5L727 857.5L726.5 857.5L720 857.5L719 857.5L718.4 857.5L714.4 857.5L714.3 857.5L714 857.5L713.6 857.5L712 857.5L708.2 857.5L707.3 857.5L706.8 857.5L690.7 857.5L688.6 857.5L688 857.5L687.5 857.5L682.3 857.5L682 857.5L681.8 857.5L681.2 857.5L676.4 857.5L675.7 857.5L666.6 857.5L661.5 857.5L661 857.5L660.5 857.5L659.8 857.5L657 857.5L655 857.5L653 857.5L647.9 857.5L647.7 857.5L647.2 857.5L646.4 857.5L639.3 857.5L634.6 857.5L634.4 857.5L634 857.5L633.6 857.5L629.6 857.5L620.7 857.5L611.6 857.5L611.3 857.5L603.7 857.5L603.6 857.5L602.3 857.5L601 857.5L600 857.5L599.6 857.5L560 857.5L551.8 857.5L550.5 857.5L539.3 857.5L536.8 857.5L528.2 857.5L503.2 857.5L501.8 857.5L501.4 857.5L470.7 857.5L451 857.5L434.5 857.5L434 857.5Z" fill="#1FA8C9" fill-opacity="0.2"/>
<path d="M434 840.7L434.5 840.7L451 846L470.7 842L501.4 845.7L501.8 837.5L503.2 845L528.2 838.2L536.8 844L539.3 839.5L550.5 843.2L551.8 856.8L560 833.2L599.6 845.7L600 836.3L601 845.2L602.3 828.3L603.6 811.3L603.7 811.7L611.3 844L611.6 843.9L620.7 840.4L629.6 842L633.6 839.3L634 808.2L634.4 845.7L634.6 845.5L639.3 841.6L646.4 774L647.2 821L647.7 833.1L647.9 838L653 840.7L655 843L657 840L659.8 844.7L660.5 851.9L661 847L661.5 854.8L666.6 832L675.7 845L676.4 846L681.2 845L681.8 774L682 802L682.3 844L687.5 844.9L688 845L688.6 844L690.7 840.7L706.8 841.6L707.3 835.5L708.2 824.6L712 830.3L713.6 832.7L714 816.6L714.3 845L714.4 844.7L718.4 833.6L719 836.6L720 841.6L726.5 756.8L727 781.9L727.5 807L727.8 828.8L728 843.4L732.5 845.2L737.9 842.5L738.6 833.7L739 828.7L739.3 825L739.5 830.3L740 843.4L747.7 846L749 837L749.5 833.6L750 833.4L754 831.4L754.7 831.4L761.4 831.8L762.5 835.4L763.4 846L773.6 846.9L773.7 847L774.7 849.2L777 845.5L778.4 845.3L779.5 845.2L789 838.1L792 815.6L793 806.2L795.3 840.7L800 838.1L800.2 838L800.8 795L801.4 844.7L803 837.9L804 833.6L819.8 845.5L823 839L826 839L830 824L830.9 844.7L845 830.4L846.7 843.9L864 844.7L865.7 836L868 844.7L871.2 839L871.8 839.9L872 840.3L872.5 841.1L874.3 843.9L877.5 840.7L880.7 843.9L881.5 826.4L881.8 819.8L883.8 842.3L886.2 824L887 829L888.6 839L897.3 842.4L901.2 843.9L904.4 843.6L905.1 843.5L905.2 830.8L905.7 767.2L906 800.8L906.4 845.5L912 825.7L912.3 828.8L913.9 845.5L914.7 845.1L918.6 843L921.8 843.9L926.5 843L927.3 813.8L928.2 842.3L928.9 843L929 843L929 843L928.9 843L928.2 842.3L927.3 813.8L926.5 843L921.8 843.9L918.6 843L914.7 845.1L913.9 845.5L912.3 828.8L912 825.7L906.4 845.5L906 800.8L905.7 767.2L905.2 830.8L905.1 843.5L904.4 843.6L901.2 843.9L897.3 842.4L888.6 839L887 829L886.2 824L883.8 842.3L881.8 819.8L881.5 826.4L880.7 843.9L877.5 840.7L874.3 843.9L872.5 841.1L872 840.3L871.8 839.9L871.2 839L868 844.7L865.7 836L864 844.7L846.7 843.9L845 830.4L830.9 844.7L830 824L826 839L823 839L819.8 845.5L804 833.6L803 837.9L801.4 844.7L800.8 795L800.2 838L800 838.1L795.3 840.7L793 806.2L792 815.6L789 838.1L779.5 845.2L778.4 845.3L777 845.5L774.7 849.2L773.7 847L773.6 846.9L763.4 846L762.5 835.4L761.4 831.8L754.7 831.4L754 831.4L750 833.4L749.5 833.6L749 837L747.7 846L740 843.4L739.5 830.3L739.3 825L739 828.7L738.6 833.7L737.9 842.5L732.5 845.2L728 843.4L727.8 828.8L727.5 807L727 781.9L726.5 756.8L720 841.6L719 836.6L718.4 833.6L714.4 844.7L714.3 845L714 816.6L713.6 832.7L712 830.3L708.2 824.6L707.3 835.5L706.8 841.6L690.7 840.7L688.6 844L688 845L687.5 844.9L682.3 844L682 802L681.8 774L681.2 845L676.4 846L675.7 845L666.6 832L661.5 854.8L661 847L660.5 851.9L659.8 844.7L657 840L655 843L653 840.7L647.9 838L647.7 833.1L647.2 821L646.4 774L639.3 841.6L634.6 845.5L634.4 845.7L634 808.2L633.6 839.3L629.6 842L620.7 840.4L611.6 843.9L611.3 844L603.7 811.7L603.6 811.3L602.3 828.3L601 845.2L600 836.3L599.6 845.7L560 833.2L551.8 856.8L550.5 843.2L539.3 839.5L536.8 844L528.2 838.2L503.2 845L501.8 837.5L501.4 845.7L470.7 842.5L451 856.8L434.5 840.7L434 840.7Z" fill="#FF7F44" fill-opacity="0.2"/>
<path d="M929 846H1615V857.5H929Z" fill="#454E7C" fill-opacity="0.2"/>
<path d="M929 846L930 846L930 846L931 846L931 846L932 846L932 846L933 846L933 846L934 846L934 857.5L935 857.5L935 857.5L936 857.5L936 857.5L937 857.5L937 857.5L938 857.5L938 857.5L939 857.5L939 857.5L940 857.5L940 857.5L941 857.5L941 857.5L942 857.5L942 857.5L943 857.5L943 846L944 846L944 846L945 846L945 846L946 846L946 846L947 846L947 846L948 846L948 846L949 846L949 846L950 846L950 846L951 846L951 846L952 846L952 846L953 846L953 857.5L954 857.5L954 846L955 846L955 846L956 846L956 846L957 846L957 846L958 846L958 846L959 846L959 846L960 846L960 846L961 846L961 846L962 846L962 846L963 846L963 846L964 846L964 846L965 846L965 846L966 846L966 846L967 846L967 846L968 846L968 846L969 846L969 846L970 846L970 857.5L971 857.5L971 857.5L972 857.5L972 857.5L973 857.5L973 857.5L974 857.5L974 846L975 846L975 846L976 846L976 857.5L977 857.5L977 857.5L978 857.5L978 857.5L979 857.5L979 846L980 846L980 846L981 846L981 846L982 846L982 846L983 846L983 846L984 846L984 846L985 846L985 846L986 846L986 846L987 846L987 846L988 846L988 846L989 846L989 846L990 846L990 846L991 846L991 857.5L992 857.5L992 857.5L993 857.5L993 846L994 846L994 846L995 846L995 846L996 846L996 846L997 846L997 857.5L998 857.5L998 846L999 846L999 846L1000 846L1000 846L1001 846L1001 846L1002 846L1002 846L1003 846L1003 846L1004 846L1004 846L1005 846L1005 846L1006 846L1006 846L1007 846L1007 846L1008 846L1008 846L1009 846L1009 846L1010 846L1010 846L1011 846L1011 857.5L1012 857.5L1012 857.5L1013 857.5L1013 857.5L1014 857.5L1014 846L1015 846L1015 846L1016 846L1016 846L1017 846L1017 846L1018 846L1018 846L1019 846L1019 846L1020 846L1020 846L1021 846L1021 846L1022 846L1022 846L1023 846L1023 846L1024 846L1024 846L1025 846L1025 846L1026 846L1026 846L1027 846L1027 857.5L1028 857.5L1028 846L1029 846L1029 846L1030 846L1030 846L1031 846L1031 846L1032 846L1032 846L1033 846L1033 846L1034 846L1034 846L1035 846L1035 846L1036 846L1036 846L1037 846L1037 846L1038 846L1038 846L1039 846L1039 846L1040 846L1040 846L1041 846L1041 846L1042 846L1042 846L1043 846L1043 846L1044 846L1044 846L1045 846L1045 846L1046 846L1046 846L1047 846L1047 846L1048 846L1048 846L1049 846L1049 846L1050 846L1050 846L1051 846L1051 846L1052 846L1052 846L1053 846L1053 846L1054 846L1054 846L1055 846L1055 846L1056 846L1056 846L1057 846L1057 846L1058 846L1058 846L1059 846L1059 846L1060 846L1060 846L1061 846L1061 846L1062 846L1062 846L1063 846L1063 846L1064 846L1064 846L1065 846L1065 857.5L1066 857.5L1066 857.5L1067 857.5L1067 857.5L1068 857.5L1068 857.5L1069 857.5L1069 846L1070 846L1070 846L1071 846L1071 846L1072 846L1072 846L1073 846L1073 846L1074 846L1074 846L1075 846L1075 846L1076 846L1076 857.5L1077 857.5L1077 857.5L1078 857.5L1078 857.5L1079 857.5L1079 846L1080 846L1080 846L1081 846L1081 846L1082 846L1082 846L1083 846L1083 846L1084 846L1084 846L1085 846L1085 857.5L1086 857.5L1086 857.5L1087 857.5L1087 857.5L1088 857.5L1088 857.5L1089 857.5L1089 846L1090 846L1090 846L1091 846L1091 846L1092 846L1092 846L1093 846L1093 846L1094 846L1094 846L1095 846L1095 846L1096 846L1096 846L1097 846L1097 846L1098 846L1098 846L1099 846L1099 846L1100 846L1100 846L1101 846L1101 846L1102 846L1102 846L1103 846L1103 846L1104 846L1104 846L1105 846L1105 846L1106 846L1106 846L1107 846L1107 846L1108 846L1108 846L1109 846L1109 846L1110 846L1110 846L1111 846L1111 846L1112 846L1112 846L1113 846L1113 846L1114 846L1114 846L1115 846L1115 846L1116 846L1116 846L1117 846L1117 846L1118 846L1118 846L1119 846L1119 857.5L1120 857.5L1120 857.5L1121 857.5L1121 846L1122 846L1122 846L1123 846L1123 846L1124 846L1124 846L1125 846L1125 846L1126 846L1126 846L1127 846L1127 846L1128 846L1128 846L1129 846L1129 846L1130 846L1130 846L1131 846L1131 846L1132 846L1132 846L1133 846L1133 846L1134 846L1134 857.5L1135 857.5L1135 857.5L1136 857.5L1136 857.5L1137 857.5L1137 857.5L1138 857.5L1138 857.5L1139 857.5L1139 857.5L1140 857.5L1140 857.5L1141 857.5L1141 857.5L1142 857.5L1142 846L1143 846L1143 846L1144 846L1144 846L1145 846L1145 846L1146 846L1146 846L1147 846L1147 846L1148 846L1148 846L1149 846L1149 846L1150 846L1150 846L1151 846L1151 846L1152 846L1152 846L1153 846L1153 846L1154 846L1154 846L1155 846L1155 846L1156 846L1156 846L1157 846L1157 846L1158 846L1158 846L1159 846L1159 846L1160 846L1160 846L1161 846L1161 846L1162 846L1162 846L1163 846L1163 846L1164 846L1164 846L1165 846L1165 846L1166 846L1166 846L1167 846L1167 846L1168 846L1168 846L1169 846L1169 846L1170 846L1170 846L1171 846L1171 846L1172 846L1172 857.5L1173 857.5L1173 846L1174 846L1174 846L1175 846L1175 857.5L1176 857.5L1176 846L1177 846L1177 846L1178 846L1178 846L1179 846L1179 846L1180 846L1180 846L1181 846L1181 846L1182 846L1182 846L1183 846L1183 846L1184 846L1184 846L1185 846L1185 846L1186 846L1186 846L1187 846L1187 846L1188 846L1188 846L1189 846L1189 857.5L1190 857.5L1190 857.5L1191 857.5L1191 857.5L1192 857.5L1192 846L1193 846L1193 846L1194 846L1194 846L1195 846L1195 846L1196 846L1196 846L1197 846L1197 846L1198 846L1198 846L1199 846L1199 846L1200 846L1200 846L1201 846L1201 846L1202 846L1202 846L1203 846L1203 846L1204 846L1204 846L1205 846L1205 846L1206 846L1206 857.5L1207 857.5L1207 846L1208 846L1208 846L1209 846L1209 846L1210 846L1210 846L1211 846L1211 846L1212 846L1212 846L1213 846L1213 846L1214 846L1214 846L1215 846L1215 846L1216 846L1216 846L1217 846L1217 846L1218 846L1218 846L1219 846L1219 857.5L1220 857.5L1220 846L1221 846L1221 846L1222 846L1222 846L1223 846L1223 846L1224 846L1224 846L1225 846L1225 846L1226 846L1226 846L1227 846L1227 846L1228 846L1228 846L1229 846L1229 857.5L1230 857.5L1230 857.5L1231 857.5L1231 857.5L1232 857.5L1232 846L1233 846L1233 846L1234 846L1234 846L1235 846L1235 846L1236 846L1236 846L1237 846L1237 846L1238 846L1238 846L1239 846L1239 846L1240 846L1240 846L1241 846L1241 846L1242 846L1242 857.5L1243 857.5L1243 857.5L1244 857.5L1244 857.5L1245 857.5L1245 857.5L1246 857.5L1246 846L1247 846L1247 846L1248 846L1248 846L1249 846L1249 846L1250 846L1250 846L1251 846L1251 846L1252 846L1252 846L1253 846L1253 846L1254 846L1254 846L1255 846L1255 846L1256 846L1256 846L1257 846L1257 846L1258 846L1258 846L1259 846L1259 846L1260 846L1260 846L1261 846L1261 846L1262 846L1262 846L1263 846L1263 846L1264 846L1264 846L1265 846L1265 846L1266 846L1266 846L1267 846L1267 846L1268 846L1268 846L1269 846L1269 846L1270 846L1270 846L1271 846L1271 846L1272 846L1272 846L1273 846L1273 846L1274 846L1274 846L1275 846L1275 846L1276 846L1276 857.5L1277 857.5L1277 857.5L1278 857.5L1278 857.5L1279 857.5L1279 857.5L1280 857.5L1280 846L1281 846L1281 846L1282 846L1282 846L1283 846L1283 846L1284 846L1284 846L1285 846L1285 846L1286 846L1286 846L1287 846L1287 857.5L1288 857.5L1288 857.5L1289 857.5L1289 846L1290 846L1290 846L1291 846L1291 846L1292 846L1292 846L1293 846L1293 846L1294 846L1294 846L1295 846L1295 846L1296 846L1296 846L1297 846L1297 846L1298 846L1298 846L1299 846L1299 846L1300 846L1300 846L1301 846L1301 846L1302 846L1302 846L1303 846L1303 846L1304 846L1304 846L1305 846L1305 846L1306 846L1306 846L1307 846L1307 846L1308 846L1308 846L1309 846L1309 846L1310 846L1310 846L1311 846L1311 846L1312 846L1312 846L1313 846L1313 846L1314 846L1314 846L1315 846L1315 846L1316 846L1316 846L1317 846L1317 846L1318 846L1318 846L1319 846L1319 846L1320 846L1320 857.5L1321 857.5L1321 846L1322 846L1322 846L1323 846L1323 846L1324 846L1324 857.5L1325 857.5L1325 846L1326 846L1326 846L1327 846L1327 857.5L1328 857.5L1328 857.5L1329 857.5L1329 846L1330 846L1330 846L1331 846L1331 846L1332 846L1332 846L1333 846L1333 846L1334 846L1334 846L1335 846L1335 846L1336 846L1336 846L1337 846L1337 846L1338 846L1338 846L1339 846L1339 846L1340 846L1340 846L1341 846L1341 846L1342 846L1342 857.5L1343 857.5L1343 857.5L1344 857.5L1344 846L1345 846L1345 846L1346 846L1346 846L1347 846L1347 846L1348 846L1348 846L1349 846L1349 846L1350 846L1350 846L1351 846L1351 846L1352 846L1352 846L1353 846L1353 846L1354 846L1354 846L1355 846L1355 846L1356 846L1356 846L1357 846L1357 846L1358 846L1358 846L1359 846L1359 846L1360 846L1360 846L1361 846L1361 846L1362 846L1362 846L1363 846L1363 846L1364 846L1364 846L1365 846L1365 846L1366 846L1366 846L1367 846L1367 846L1368 846L1368 846L1369 846L1369 846L1370 846L1370 846L1371 846L1371 846L1372 846L1372 846L1373 846L1373 846L1374 846L1374 846L1375 846L1375 846L1376 846L1376 846L1377 846L1377 846L1378 846L1378 846L1379 846L1379 846L1380 846L1380 846L1381 846L1381 846L1382 846L1382 846L1383 846L1383 846L1384 846L1384 857.5L1385 857.5L1385 846L1386 846L1386 846L1387 846L1387 846L1388 846L1388 846L1389 846L1389 846L1390 846L1390 846L1391 846L1391 846L1392 846L1392 857.5L1393 857.5L1393 846L1394 846L1394 846L1395 846L1395 846L1396 846L1396 846L1397 846L1397 846L1398 846L1398 846L1399 846L1399 846L1400 846L1400 846L1401 846L1401 846L1402 846L1402 846L1403 846L1403 846L1404 846L1404 846L1405 846L1405 846L1406 846L1406 846L1407 846L1407 857.5L1408 857.5L1408 846L1409 846L1409 846L1410 846L1410 846L1411 846L1411 846L1412 846L1412 846L1413 846L1413 846L1414 846L1414 846L1415 846L1415 846L1416 846L1416 846L1417 846L1417 846L1418 846L1418 846L1419 846L1419 846L1420 846L1420 846L1421 846L1421 846L1422 846L1422 846L1423 846L1423 846L1424 846L1424 846L1425 846L1425 857.5L1426 857.5L1426 846L1427 846L1427 846L1428 846L1428 846L1429 846L1429 846L1430 846L1430 846L1431 846L1431 846L1432 846L1432 857.5L1433 857.5L1433 857.5L1434 857.5L1434 846L1435 846L1435 846L1436 846L1436 846L1437 846L1437 846L1438 846L1438 846L1439 846L1439 846L1440 846L1440 846L1441 846L1441 846L1442 846L1442 846L1443 846L1443 846L1444 846L1444 846L1445 846L1445 846L1446 846L1446 846L1447 846L1447 846L1448 846L1448 857.5L1449 857.5L1449 857.5L1450 857.5L1450 857.5L1451 857.5L1451 857.5L1452 857.5L1452 857.5L1453 857.5L1453 846L1454 846L1454 846L1455 846L1455 846L1456 846L1456 846L1457 846L1457 846L1458 846L1458 846L1459 846L1459 846L1460 846L1460 846L1461 846L1461 846L1462 846L1462 846L1463 846L1463 846L1464 846L1464 846L1465 846L1465 846L1466 846L1466 846L1467 846L1467 846L1468 846L1468 846L1469 846L1469 846L1470 846L1470 846L1471 846L1471 846L1472 846L1472 846L1473 846L1473 846L1474 846L1474 846L1475 846L1475 846L1476 846L1476 846L1477 846L1477 846L1478 846L1478 846L1479 846L1479 846L1480 846L1480 846L1481 846L1481 846L1482 846L1482 846L1483 846L1483 846L1484 846L1484 846L1485 846L1485 846L1486 846L1486 846L1487 846L1487 846L1488 846L1488 846L1489 846L1489 846L1490 846L1490 846L1491 846L1491 857.5L1492 857.5L1492 857.5L1493 857.5L1493 846L1494 846L1494 846L1495 846L1495 846L1496 846L1496 846L1497 846L1497 846L1498 846L1498 846L1499 846L1499 846L1500 846L1500 846L1501 846L1501 846L1502 846L1502 846L1503 846L1503 846L1504 846L1504 846L1505 846L1505 846L1506 846L1506 846L1507 846L1507 846L1508 846L1508 846L1509 846L1509 846L1510 846L1510 846L1511 846L1511 846L1512 846L1512 846L1513 846L1513 846L1514 846L1514 846L1515 846L1515 846L1516 846L1516 844.1L1517 844.1L1517 842.7L1518 842.7L1518 844.2L1519 844.2L1519 844.1L1520 844.1L1520 843.8L1521 843.8L1521 857.5L1522 857.5L1522 857.5L1523 857.5L1523 857.5L1524 857.5L1524 857.5L1525 857.5L1525 857.5L1526 857.5L1526 839.7L1527 839.7L1527 840.5L1528 840.5L1528 840.6L1529 840.6L1529 845.7L1530 845.7L1530 841.3L1531 841.3L1531 844.9L1532 844.9L1532 844.1L1533 844.1L1533 838L1534 838L1534 843.6L1535 843.6L1535 841.4L1536 841.4L1536 844.2L1537 844.2L1537 844.6L1538 844.6L1538 840.3L1539 840.3L1539 839.9L1540 839.9L1540 837.5L1541 837.5L1541 839.4L1542 839.4L1542 839.4L1543 839.4L1543 837.9L1544 837.9L1544 837.8L1545 837.8L1545 837.5L1546 837.5L1546 838.6L1547 838.6L1547 836.9L1548 836.9L1548 836.8L1549 836.8L1549 844.2L1550 844.2L1550 857.5L1551 857.5L1551 837.4L1552 837.4L1552 843.4L1553 843.4L1553 843.2L1554 843.2L1554 836.6L1555 836.6L1555 835.9L1556 835.9L1556 845.2L1557 845.2L1557 834.1L1558 834.1L1558 833.3L1559 833.3L1559 835.7L1560 835.7L1560 835.5L1561 835.5L1561 836.3L1562 836.3L1562 836.3L1563 836.3L1563 845.1L1564 845.1L1564 833.6L1565 833.6L1565 843.3L1566 843.3L1566 836.3L1567 836.3L1567 845.1L1568 845.1L1568 836L1569 836L1569 857.5L1570 857.5L1570 857.5L1571 857.5L1571 837.7L1572 837.7L1572 836L1573 836L1573 838.1L1574 838.1L1574 857.5L1575 857.5L1575 835.9L1576 835.9L1576 839.2L1577 839.2L1577 838.4L1578 838.4L1578 837.6L1579 837.6L1579 837.9L1580 837.9L1580 845.7L1581 845.7L1581 837.9L1582 837.9L1582 838.1L1583 838.1L1583 844.8L1584 844.8L1584 844.8L1585 844.8L1585 843.4L1586 843.4L1586 839.4L1587 839.4L1587 840L1588 840L1588 840.6L1589 840.6L1589 840.3L1590 840.3L1590 841.6L1591 841.6L1591 844L1592 844L1592 845.9L1593 845.9L1593 844.2L1594 844.2L1594 841.9L1595 841.9L1595 843.5L1596 843.5L1596 842.3L1597 842.3L1597 841.1L1598 841.1L1598 841L1599 841L1599 841.5L1600 841.5L1600 841.5L1601 841.5L1601 844.2L1602 844.2L1602 843.3L1603 843.3L1603 841L1604 841L1604 842.1L1605 842.1L1605 846L1606 846L1606 846L1607 846L1607 846L1608 846L1608 846L1609 846L1609 846L1610 846L1610 857.5L1611 857.5L1611 846L1612 846L1612 846L1613 846L1613 846L1614 846L1614 846L1615 846L1615 857.5L929 857.5Z" fill="#1FA8C9" fill-opacity="0.2"/>
<path d="M536.8 844L539.3 809.5L540 839L540 839.7L539.3 839.5L536.8 844Z" fill="#5AC189" fill-opacity="0.2"/>
<path d="M552.5 845L559.5 819L560.5 833.5L560.5 833.4L559.5 834.6L552.5 854.8Z" fill="#5AC189" fill-opacity="0.2"/>
<path d="M639.3 840.7L647.2 728L647.7 821L647.7 833.1L647.2 821L639.3 841.6Z" fill="#5AC189" fill-opacity="0.2"/>
<path d="M659.8 844.7L661 834.4L661.8 857L661.8 853.4L661 847L659.8 844.7Z" fill="#5AC189" fill-opacity="0.2"/>
<path d="M690 844.7L692 828.4L707.3 840.7L707.3 835.5L692 840.8L690 841.8Z" fill="#5AC189" fill-opacity="0.2"/>
<path d="M719 842L720 755.6L720.7 844L721.5 842L727 715L727.8 806.7L727.8 828.8L727 781.9L721.5 822L720.7 832.5L720 841.6L719 836.6Z" fill="#5AC189" fill-opacity="0.2"/>
<path d="M754 831L761.8 820L763 797L763.4 834L763.4 846L763 841.3L761.8 833.1L754 831.4Z" fill="#5AC189" fill-opacity="0.2"/>
<path d="M773 845.5L778 836.8L778.7 844.7L778.7 845.3L778 845.4L773 846.8Z" fill="#5AC189" fill-opacity="0.2"/>
<path d="M795.3 840.7L800 729.2L801.6 844.7L801.6 843.8L800 838.1L795.3 840.7Z" fill="#5AC189" fill-opacity="0.2"/>
<path d="M827 845.5L830 777.5L830.9 844.7L830.9 844.7L830 824L827 835.2Z" fill="#5AC189" fill-opacity="0.2"/>
<path d="M872 844.7L873.1 724.5L874.3 844.7L874.3 843.9L873.1 842L872 840.3Z" fill="#5AC189" fill-opacity="0.2"/>
<path d="M793.7 845.5L799.2 798L801 844L801 811.6L799.2 838.6L793.7 816.7Z" fill="#666666" fill-opacity="0.2"/>
<path d="M932.8 845.5L934.1 734L935 845L935 843L934.1 843L932.8 843Z" fill="#FF7F44" fill-opacity="0.2"/>
<path d="M928.9 845.5L930 723L931.3 844.7L931.3 843L930 843L928.9 843Z" fill="#5AC189" fill-opacity="0.2"/>
<path d="M933.6 844.7L934.4 731.3L935.2 845L935.2 843L934.4 843L933.6 843Z" fill="#5AC189" fill-opacity="0.2"/>
<path d="M968 844.7L968.9 778.3L969.8 845L969.8 843L968.9 843L968 843Z" fill="#FF7F44" fill-opacity="0.2"/>
<path d="M957.3 844.7L957.8 806.7L958.6 845L958.6 843L957.8 843L957.3 843Z" fill="#5AC189" fill-opacity="0.2"/>
<path d="M1356.7 834.5L1357 775.8L1357.3 834.5" stroke="#E04355" stroke-width="1.8" fill="none" stroke-linejoin="miter" stroke-miterlimit="20"/>
<path d="M1218.4 819.2L1218.7 793L1219 819.2M1430.7 839.9L1431 749L1431.3 839.9M1213.7 831.8L1214 812L1214.3 831.8M1224.7 841L1225 830L1225.3 841M1049.7 838.4L1050 845L1050.3 838.4M1339.7 844.5L1340 810L1340.3 844.5M1379.7 844.9L1380 820L1380.3 844.9M1514.7 840.3L1515 815L1515.3 840.3M1538.7 834.3L1539 770L1539.3 834.3M1562.7 824.9L1563 800L1563.3 824.9M1574.7 814.5L1575 810L1575.3 814.5M1596.7 833.9L1597 820L1597.3 833.9M1469.7 842.8L1470 820L1470.3 842.8M1399.7 844.2L1400 835L1400.3 844.2M1309.7 818L1310 842L1310.3 818M1252.7 842.9L1253 835L1253.3 842.9M1121.7 846L1122 830L1122.3 846M1097.7 843.3L1098 845L1098.3 843.3M1039.7 843L1040 836L1040.3 843M1233.2 833.5L1233.5 822.2L1233.8 833.5M1262.2 843.4L1262.5 825.4L1262.8 843.4M1273.2 822.4L1273.5 805.4L1273.8 822.4M1316.2 844.3L1316.5 836.2L1316.8 844.3M1377.2 826.2L1377.5 816.6L1377.8 826.2M1434.2 838.5L1434.5 830L1434.8 838.5M1451.2 801.4L1451.5 782.5L1451.8 801.4M1462.2 833.4L1462.5 815.5L1462.8 833.4M1465.2 840.2L1465.5 830.8L1465.8 840.2M1580.2 840.6L1580.5 833.9L1580.8 840.6M1581.2 827.4L1581.5 813.5L1581.8 827.4M793.7 845.5L799.2 798L801 844" stroke="#666666" stroke-width="1.8" fill="none" stroke-linejoin="miter" stroke-miterlimit="20"/>
<path d="M1098.7 844.2L1099 783L1099.3 844.2M1167.7 839.2L1168 709L1168.3 839.2M1197.5 830.2L1197.8 801L1198.1 830.2M1287.7 843.6L1288 805L1288.3 843.6M1023.4 841.5L1023.8 826L1024.1 841.5M1335.2 845L1335.6 643.7L1335.9 845M1495.6 844.8L1495.9 770L1496.2 844.8M1511.5 843.7L1511.8 775L1512.1 843.7M1573.7 834.2L1574 785L1574.3 834.2M1591.4 832L1591.7 780L1592 832M1544.2 836.8L1544.6 332L1544.9 836.8M1184.7 838.1L1185 815L1185.3 838.1M1202.7 815.6L1203 808L1203.3 815.6M1225.7 842.4L1226 822L1226.3 842.4M1419.7 843.8L1420 830L1420.3 843.8M1351.7 845.1L1352 850L1352.3 845.1M1299.7 836.8L1300 835L1300.3 836.8M1604.7 832L1605 812L1605.3 832M1183.2 843.4L1183.5 825.9L1183.8 843.4M1215.2 838.6L1215.5 824.8L1215.8 838.6M1242.2 842L1242.5 836.1L1242.8 842M1252.2 824.7L1252.5 811.1L1252.8 824.7M1294.2 815.1L1294.5 798L1294.8 815.1M1304.2 840.6L1304.5 833L1304.8 840.6M1322.2 833L1322.5 827.9L1322.8 833M1334.2 842L1334.5 828.3L1334.8 842M1356.2 838.6L1356.5 824.1L1356.8 838.6M1492.2 842.4L1492.5 824.8L1492.8 842.4M1553.2 832.6L1553.5 816.8L1553.8 832.6M1561.2 832L1561.5 813.7L1561.8 832M932.8 845.5L934.1 734L935 845M968 844.7L968.9 778.3L969.8 845" stroke="#FF7F44" stroke-width="1.8" fill="none" stroke-linejoin="miter" stroke-miterlimit="20"/>
<path d="M1089.4 843.9L1089.7 774L1090 843.9M1193.2 839.3L1193.5 744L1193.8 839.3M1210.1 822.4L1210.4 729L1210.8 822.4M1249.4 833.5L1249.7 783.6L1250 833.5M1291.7 694L1292 770.6L1292.3 694M1297.7 842.9L1298 758.7L1298.3 842.9M1015.6 845.3L1016 835L1016.4 845.3M1051.7 843L1052 830L1052.3 843M1119.7 831.2L1120 832L1120.3 831.2M1179.7 808L1180 800L1180.3 808M1199.7 836.6L1200 818L1200.3 836.6M1239.7 812L1240 820L1240.3 812M1261.7 843.4L1262 818L1262.3 843.4M1339.5 830.7L1339.8 742.6L1340.1 830.7M1341.9 833.2L1342.2 760L1342.5 833.2M1347.1 841.4L1347.4 809.7L1347.8 841.4M1389.2 844.9L1389.6 793L1389.9 844.9M1406.4 826.5L1406.7 792.4L1407 826.5M1466.7 845.6L1467 799L1467.3 845.6M1521.4 824.1L1521.7 710L1522 824.1M1522.2 806.7L1522.5 726.7L1522.8 806.7M1523.7 836.9L1524 740L1524.3 836.9M1530.9 814.3L1531.2 677L1531.5 814.3M1544.4 836.8L1544.7 631L1545 836.8M1555.7 833.5L1556 713L1556.3 833.5M1572.4 833.3L1572.7 678.8L1573 833.3M1587.7 837.6L1588 735.7L1588.3 837.6M1560.5 821.3L1560.8 770.6L1561.1 821.3M1564.1 800.4L1564.4 770.6L1564.8 800.4M1601.2 822.6L1601.6 800.7L1601.9 822.6M1526.7 832.9L1527 770L1527.3 832.9M1536.7 835.3L1537 780L1537.3 835.3M1580.7 827.4L1581 790L1581.3 827.4M1589.7 841.2L1590 760L1590.3 841.2M1594.7 836.2L1595 800L1595.3 836.2M1407.7 814L1408 820L1408.3 814M1379.7 844.9L1380 825L1380.3 844.9M1439.7 828.8L1440 812L1440.3 828.8M1454.7 845.6L1455 818L1455.3 845.6M1479.7 843.8L1480 810L1480.3 843.8M1501.7 843.2L1502 806L1502.3 843.2M1514.7 840.3L1515 795L1515.3 840.3M1167.2 841L1167.5 828.6L1167.8 841M1170.2 841.8L1170.5 833.9L1170.8 841.8M1173.2 837.5L1173.5 817.8L1173.8 837.5M1180.2 808L1180.5 791.8L1180.8 808M1184.2 829.1L1184.5 810.9L1184.8 829.1M1185.2 838.1L1185.5 833.2L1185.8 838.1M1190.2 812L1190.5 791L1190.8 812M1199.2 839L1199.5 826.1L1199.8 839M1227.2 843.7L1227.5 836.8L1227.8 843.7M1229.2 842.2L1229.5 829.7L1229.8 842.2M1275.2 834.8L1275.5 815.7L1275.8 834.8M1306.2 844.9L1306.5 832.4L1306.8 844.9M1312.2 845.1L1312.5 824.4L1312.8 845.1M1343.2 836.7L1343.5 829.1L1343.8 836.7M1353.2 839.4L1353.5 834.4L1353.8 839.4M1365.2 822L1365.5 807.6L1365.8 822M1372.2 830L1372.5 822.9L1372.8 830M1376.2 844.2L1376.5 831L1376.8 844.2M1392.2 843L1392.5 832L1392.8 843M1404.2 840.8L1404.5 834.8L1404.8 840.8M1434.2 838.5L1434.5 820.8L1434.8 838.5M1442.2 843.4L1442.5 838.9L1442.8 843.4M1454.2 836.7L1454.5 829.4L1454.8 836.7M1465.2 840.2L1465.5 829.2L1465.8 840.2M1483.2 831.9L1483.5 827.2L1483.8 831.9M1516.2 827.8L1516.5 813.7L1516.8 827.8M1543.2 834.3L1543.5 813.3L1543.8 834.3M1548.2 816.5L1548.5 798.3L1548.8 816.5M1549.2 838.9L1549.5 825.2L1549.8 838.9M1559.2 825.2L1559.5 807.4L1559.8 825.2M1564.2 800.4L1564.5 780.5L1564.8 800.4M1567.2 790L1567.5 778.3L1567.8 790M1571.2 816.9L1571.5 804.7L1571.8 816.9M1584.2 827.5L1584.5 822.4L1584.8 827.5M536.8 844L539.3 809.5L540 839M552.5 845L559.5 819L560.5 833.5M639.3 840.7L647.2 728L647.7 821M659.8 844.7L661 834.4L661.8 857M690 844.7L692 828.4L707.3 840.7M719 842L720 755.6L720.7 844L721.5 842L727 715L727.8 806.7M754 831L761.8 820L763 797L763.4 834M773 845.5L778 836.8L778.7 844.7M795.3 840.7L800 729.2L801.6 844.7M827 845.5L830 777.5L830.9 844.7M872 844.7L873.1 724.5L874.3 844.7M928.9 845.5L930 723L931.3 844.7M933.6 844.7L934.4 731.3L935.2 845M957.3 844.7L957.8 806.7L958.6 845" stroke="#5AC189" stroke-width="1.8" fill="none" stroke-linejoin="miter" stroke-miterlimit="20"/>
<path d="M434 840.7L434.5 840.7L451 846L470.7 842" stroke="#FF7F44" stroke-width="1.8" fill="none"/>
<path d="M434 840.7L434.5 840.7L451 856.8L470.7 842.5L501.4 845.7L501.8 837.5L503.2 845L528.2 838.2L536.8 844L539.3 839.5L550.5 843.2L551.8 856.8L560 833.2L599.6 845.7L600 836.3L601 845.2L602.3 828.3L603.6 811.3L603.7 811.7L611.3 844L611.6 843.9L620.7 840.4L629.6 842L633.6 839.3L634 808.2L634.4 845.7L634.6 845.5L639.3 841.6L646.4 774L647.2 821L647.7 833.1L647.9 838L653 840.7L655 843L657 840L659.8 844.7L660.5 851.9L661 847L661.5 854.8L666.6 832L675.7 845L676.4 846L681.2 845L681.8 774L682 802L682.3 844L687.5 844.9L688 845L688.6 844L690.7 840.7L706.8 841.6L707.3 835.5L708.2 824.6L712 830.3L713.6 832.7L714 816.6L714.3 845L714.4 844.7L718.4 833.6L719 836.6L720 841.6L726.5 756.8L727 781.9L727.5 807L727.8 828.8L728 843.4L732.5 845.2L737.9 842.5L738.6 833.7L739 828.7L739.3 825L739.5 830.3L740 843.4L747.7 846L749 837L749.5 833.6L750 833.4L754 831.4L754.7 831.4L761.4 831.8L762.5 835.4L763.4 846L773.6 846.9L773.7 847L774.7 849.2L777 845.5L778.4 845.3L779.5 845.2L789 838.1L792 815.6L793 806.2L795.3 840.7L800 838.1L800.2 838L800.8 795L801.4 844.7L803 837.9L804 833.6L819.8 845.5L823 839L826 839L830 824L830.9 844.7L845 830.4L846.7 843.9L864 844.7L865.7 836L868 844.7L871.2 839L871.8 839.9L872 840.3L872.5 841.1L874.3 843.9L877.5 840.7L880.7 843.9L881.5 826.4L881.8 819.8L883.8 842.3L886.2 824L887 829L888.6 839L897.3 842.4L901.2 843.9L904.4 843.6L905.1 843.5L905.2 830.8L905.7 767.2L906 800.8L906.4 845.5L912 825.7L912.3 828.8L913.9 845.5L914.7 845.1L918.6 843L921.8 843.9L926.5 843L927.3 813.8L928.2 842.3L928.9 843L929 843" stroke="#454E7C" stroke-width="1.8" fill="none" stroke-linejoin="round"/>
<path d="M434 857.5L434.5 857.5L451 857.5L470.7 857.5L501.4 857.5L501.8 857.5L503.2 857.5L528.2 857.5L536.8 857.5L539.3 857.5L550.5 857.5L551.8 857.5L560 857.5L599.6 857.5L600 857.5L601 857.5L602.3 857.5L603.6 844.5L603.7 843.5L611.3 857L611.6 857.5L620.7 857.5L629.6 857.5L633.6 857.5L634 845.5L634.4 853.5L634.6 857.5L639.3 857.5L646.4 842.4L647.2 840.7L647.7 857.5L647.9 857.5L653 857.5L655 857.5L657 857.5L659.8 857.5L660.5 857.5L661 847L661.5 857.5L666.6 857.5L675.7 857.5L676.4 856L681.2 845.5L681.8 854.5L682 857.5L682.3 857.5L687.5 857.5L688 847L688.6 857.5L690.7 856L706.8 844.3L707.3 843.9L708.2 846.5L712 857.5L713.6 847.9L714 845.5L714.3 854.5L714.4 857.5L718.4 857.5L719 857.5L720 845.5L726.5 835.2L727 834.4L727.5 848.8L727.8 857.5L728 857.5L732.5 857.5L737.9 857.5L738.6 857.5L739 846L739.3 852.9L739.5 857.5L740 857.5L747.7 857.5L749 857.5L749.5 851.1L750 844.7L754 843.3L754.7 843L761.4 854.2L762.5 856L763.4 857.5L773.6 847.1L773.7 847L774.7 849.2L777 854.4L778.4 857.5L779.5 857.5L789 838.1L792 832L793 839.7L795.3 857.5L800 844.7L800.2 844.8L800.8 844.9L801.4 845.1L803 845.5L804 846.2L819.8 857.5L823 857.5L826 857.5L830 857.5L830.9 857.5L845 843L846.7 857.5L864 857.5L865.7 857.5L868 857.5L871.2 857.5L871.8 857.5L872 845.5L872.5 857.5L874.3 857.5L877.5 857.5L880.7 857.5L881.5 845.5L881.8 845.1L883.8 842.8L886.2 839.9L887 839L888.6 841.9L897.3 857.5L901.2 857.5L904.4 857.5L905.1 847L905.2 845.5L905.7 853L906 857.5L906.4 856.6L912 843.7L912.3 843L913.9 852.7L914.7 857.5L918.6 857.5L921.8 857.5L926.5 843L927.3 847.8L928.2 853.3L928.9 857.5L929 857.5M955 846H956M956 846H957M957 846H958M958 846H959M959 846H960M960 846H961M961 846H962M988 846H989M1038 846H1039M1039 846H1040M1128 846H1129M1129 846H1130M1166 846H1167M1196 846H1197M1227 846H1228M1228 846H1229M1261 846H1262M1262 846H1263M1289 846H1290M1290 846H1291M1310 846H1311M1316 846H1317M1383 846H1384M1390 846H1391M1391 846H1392M1408 846H1409M1443 846H1444M1489 846H1490M1490 846H1491M1558 833.3H1559M1559 835.7H1560M1575 835.9H1576M1604 842.1H1605M1605 846H1606M934 857.5H935M935 857.5H936M936 857.5H937M937 857.5H938M938 857.5H939M939 857.5H940M940 857.5H941M941 857.5H942M942 857.5H943M953 857.5H954M970 857.5H971M971 857.5H972M972 857.5H973M973 857.5H974M976 857.5H977M977 857.5H978M978 857.5H979M991 857.5H992M992 857.5H993M997 857.5H998M1011 857.5H1012M1012 857.5H1013M1013 857.5H1014M1027 857.5H1028M1065 857.5H1066M1066 857.5H1067M1067 857.5H1068M1068 857.5H1069M1076 857.5H1077M1077 857.5H1078M1078 857.5H1079M1085 857.5H1086M1086 857.5H1087M1087 857.5H1088M1088 857.5H1089M1119 857.5H1120M1120 857.5H1121M1134 857.5H1135M1135 857.5H1136M1136 857.5H1137M1137 857.5H1138M1138 857.5H1139M1139 857.5H1140M1140 857.5H1141M1141 857.5H1142M1172 857.5H1173M1175 857.5H1176M1189 857.5H1190M1190 857.5H1191M1191 857.5H1192M1206 857.5H1207M1219 857.5H1220M1229 857.5H1230M1230 857.5H1231M1231 857.5H1232M1242 857.5H1243M1243 857.5H1244M1244 857.5H1245M1245 857.5H1246M1276 857.5H1277M1277 857.5H1278M1278 857.5H1279M1279 857.5H1280M1287 857.5H1288M1288 857.5H1289M1320 857.5H1321M1324 857.5H1325M1327 857.5H1328M1328 857.5H1329M1342 857.5H1343M1343 857.5H1344M1384 857.5H1385M1392 857.5H1393M1407 857.5H1408M1425 857.5H1426M1432 857.5H1433M1433 857.5H1434M1448 857.5H1449M1449 857.5H1450M1450 857.5H1451M1451 857.5H1452M1452 857.5H1453M1491 857.5H1492M1492 857.5H1493M1521 857.5H1522M1522 857.5H1523M1523 857.5H1524M1524 857.5H1525M1525 857.5H1526M1550 857.5H1551M1569 857.5H1570M1570 857.5H1571M1574 857.5H1575M1610 857.5H1611" stroke="#1FA8C9" stroke-width="1.8" fill="none" stroke-linejoin="round" clip-path="url(#cp2)"/>
<path d="M929 846L929.5 857.5L930 846L930.5 857.5L931 846L931.5 848.5L932 846L932.5 857.5L933 846L933.5 857.5M943 846L943.5 847.2L944 846L944.5 849.4L945 846L945.5 846.4L946 846L946.5 851.5L947 846L947.5 857.5L948 846L948.5 857.5L949 846L949.5 848.5L950 846L950.5 857.5L951 846L951.5 857.5L952 846L952.5 857.5M954 846L954.5 857.5M962 846L962.5 857.5L963 846L963.5 857.5L964 846L964.5 857.5L965 846L965.5 857.5L966 846L966.5 857.5L967 846L967.5 857.5L968 846L968.5 857.5L969 846L969.5 857.5M974 846L974.5 857.5L975 846L975.5 857.5M979 846L979.5 857.5L980 846L980.5 857.5L981 846L981.5 857.5L982 846L982.5 857.5L983 846L983.5 857.5L984 846L984.5 846.9L985 846L985.5 857.5L986 846L986.5 850.4L987 846L987.5 857.5M989 846L989.5 857.5L990 846L990.5 857.5M993 846L993.5 857.5L994 846L994.5 857.5L995 846L995.5 857.5L996 846L996.5 857.5M998 846L998.5 857.5L999 846L999.5 857.5L1000 846L1000.5 857.5L1001 846L1001.5 857.5L1002 846L1002.5 857.5L1003 846L1003.5 857.5L1004 846L1004.5 851.9L1005 846L1005.5 850.1L1006 846L1006.5 857.5L1007 846L1007.5 849.8L1008 846L1008.5 857.5L1009 846L1009.5 857.5L1010 846L1010.5 857.5M1014 846L1014.5 857.5L1015 846L1015.5 857.5L1016 846L1016.5 848.9L1017 846L1017.5 857.5L1018 846L1018.5 857.5L1019 846L1019.5 857.5L1020 846L1020.5 857.5L1021 846L1021.5 857.5L1022 846L1022.5 857.5L1023 846L1023.5 857.5L1024 846L1024.5 857.5L1025 846L1025.5 857.5L1026 846L1026.5 857.5M1028 846L1028.5 857.5L1029 846L1029.5 846.1L1030 846L1030.5 857.5L1031 846L1031.5 849.7L1032 846L1032.5 857.5L1033 846L1033.5 857.5L1034 846L1034.5 857.5L1035 846L1035.5 857.5L1036 846L1036.5 848L1037 846L1037.5 857.5M1040 846L1040.5 857.5L1041 846L1041.5 857.5L1042 846L1042.5 857.5L1043 846L1043.5 857.5L1044 846L1044.5 857.5L1045 846L1045.5 857.5L1046 846L1046.5 857.5L1047 846L1047.5 857.5L1048 846L1048.5 857.5L1049 846L1049.5 857.5L1050 846L1050.5 857.5L1051 846L1051.5 848.9L1052 846L1052.5 857.5L1053 846L1053.5 857.5L1054 846L1054.5 857.5L1055 846L1055.5 857.5L1056 846L1056.5 857.5L1057 846L1057.5 857.5L1058 846L1058.5 850.6L1059 846L1059.5 847.9L1060 846L1060.5 857.5L1061 846L1061.5 857.5L1062 846L1062.5 857.5L1063 846L1063.5 857.5L1064 846L1064.5 857.5M1069 846L1069.5 857.5L1070 846L1070.5 857.5L1071 846L1071.5 857.5L1072 846L1072.5 857.5L1073 846L1073.5 857.5L1074 846L1074.5 857.5L1075 846L1075.5 857.5M1079 846L1079.5 857.5L1080 846L1080.5 857.5L1081 846L1081.5 857.5L1082 846L1082.5 857.5L1083 846L1083.5 857.5L1084 846L1084.5 857.5M1089 846L1089.5 857.5L1090 846L1090.5 857.5L1091 846L1091.5 857.5L1092 846L1092.5 857.5L1093 846L1093.5 857.5L1094 846L1094.5 857.5L1095 846L1095.5 857.5L1096 846L1096.5 857.5L1097 846L1097.5 857.5L1098 846L1098.5 857.5L1099 846L1099.5 857.5L1100 846L1100.5 857.5L1101 846L1101.5 857.5L1102 846L1102.5 857.5L1103 846L1103.5 857.5L1104 846L1104.5 857.5L1105 846L1105.5 857.5L1106 846L1106.5 857.5L1107 846L1107.5 857.5L1108 846L1108.5 857.5L1109 846L1109.5 857.5L1110 846L1110.5 857.5L1111 846L1111.5 857.5L1112 846L1112.5 857.5L1113 846L1113.5 849.9L1114 846L1114.5 857.5L1115 846L1115.5 857.5L1116 846L1116.5 857.5L1117 846L1117.5 857.5L1118 846L1118.5 857.5M1121 846L1121.5 857.5L1122 846L1122.5 857.5L1123 846L1123.5 857.5L1124 846L1124.5 857.5L1125 846L1125.5 857.5L1126 846L1126.5 857.5L1127 846L1127.5 857.5M1130 846L1130.5 857.5L1131 846L1131.5 857.5L1132 846L1132.5 857.5L1133 846L1133.5 849.9M1142 846L1142.5 857.5L1143 846L1143.5 857.5L1144 846L1144.5 857.5L1145 846L1145.5 857.5L1146 846L1146.5 851.2L1147 846L1147.5 847L1148 846L1148.5 857.5L1149 846L1149.5 857.5L1150 846L1150.5 857.5L1151 846L1151.5 857.5L1152 846L1152.5 857.5L1153 846L1153.5 857.5L1154 846L1154.5 857.5L1155 846L1155.5 857.5L1156 846L1156.5 857.5L1157 846L1157.5 857.5L1158 846L1158.5 857.5L1159 846L1159.5 857.5L1160 846L1160.5 857.5L1161 846L1161.5 857.5L1162 846L1162.5 857.5L1163 846L1163.5 857.5L1164 846L1164.5 857.5L1165 846L1165.5 857.5M1167 846L1167.5 847.3L1168 846L1168.5 857.5L1169 846L1169.5 857.5L1170 846L1170.5 857.5L1171 846L1171.5 857.5M1173 846L1173.5 847.4L1174 846L1174.5 857.5M1176 846L1176.5 857.5L1177 846L1177.5 857.5L1178 846L1178.5 857.5L1179 846L1179.5 857.5L1180 846L1180.5 857.5L1181 846L1181.5 857.5L1182 846L1182.5 857.5L1183 846L1183.5 857.5L1184 846L1184.5 857.5L1185 846L1185.5 857.5L1186 846L1186.5 857.5L1187 846L1187.5 857.5L1188 846L1188.5 857.5M1192 846L1192.5 857.5L1193 846L1193.5 857.5L1194 846L1194.5 857.5L1195 846L1195.5 857.5M1197 846L1197.5 857.5L1198 846L1198.5 857.5L1199 846L1199.5 846.4L1200 846L1200.5 857.5L1201 846L1201.5 857.5L1202 846L1202.5 857.5L1203 846L1203.5 857.5L1204 846L1204.5 857.5L1205 846L1205.5 857.5M1207 846L1207.5 848.2L1208 846L1208.5 857.5L1209 846L1209.5 857.5L1210 846L1210.5 857.5L1211 846L1211.5 847.8L1212 846L1212.5 857.5L1213 846L1213.5 857.5L1214 846L1214.5 857.5L1215 846L1215.5 857.5L1216 846L1216.5 850.7L1217 846L1217.5 846.5L1218 846L1218.5 857.5M1220 846L1220.5 857.5L1221 846L1221.5 857.5L1222 846L1222.5 857.5L1223 846L1223.5 857.5L1224 846L1224.5 849L1225 846L1225.5 849.5L1226 846L1226.5 857.5M1232 846L1232.5 857.5L1233 846L1233.5 857.5L1234 846L1234.5 857.5L1235 846L1235.5 849.7L1236 846L1236.5 857.5L1237 846L1237.5 850.7L1238 846L1238.5 857.5L1239 846L1239.5 847.6L1240 846L1240.5 857.5L1241 846L1241.5 857.5M1246 846L1246.5 857.5L1247 846L1247.5 857.5L1248 846L1248.5 851.7L1249 846L1249.5 857.5L1250 846L1250.5 857.5L1251 846L1251.5 849.3L1252 846L1252.5 857.5L1253 846L1253.5 857.5L1254 846L1254.5 857.5L1255 846L1255.5 857.5L1256 846L1256.5 849L1257 846L1257.5 857.5L1258 846L1258.5 857.5L1259 846L1259.5 857.5L1260 846L1260.5 857.5M1263 846L1263.5 857.5L1264 846L1264.5 857.5L1265 846L1265.5 857.5L1266 846L1266.5 857.5L1267 846L1267.5 857.5L1268 846L1268.5 857.5L1269 846L1269.5 857.5L1270 846L1270.5 857.5L1271 846L1271.5 857.5L1272 846L1272.5 857.5L1273 846L1273.5 857.5L1274 846L1274.5 857.5L1275 846L1275.5 857.5M1280 846L1280.5 857.5L1281 846L1281.5 851.2L1282 846L1282.5 849.8L1283 846L1283.5 857.5L1284 846L1284.5 857.5L1285 846L1285.5 857.5L1286 846L1286.5 857.5M1291 846L1291.5 857.5L1292 846L1292.5 857.5L1293 846L1293.5 857.5L1294 846L1294.5 857.5L1295 846L1295.5 857.5L1296 846L1296.5 857.5L1297 846L1297.5 857.5L1298 846L1298.5 857.5L1299 846L1299.5 857.5L1300 846L1300.5 857.5L1301 846L1301.5 857.5L1302 846L1302.5 857.5L1303 846L1303.5 857.5L1304 846L1304.5 857.5L1305 846L1305.5 857.5L1306 846L1306.5 857.5L1307 846L1307.5 857.5L1308 846L1308.5 857.5L1309 846L1309.5 857.5M1311 846L1311.5 857.5L1312 846L1312.5 857.5L1313 846L1313.5 857.5L1314 846L1314.5 857.5L1315 846L1315.5 851.3M1317 846L1317.5 857.5L1318 846L1318.5 857.5L1319 846L1319.5 857.5M1321 846L1321.5 857.5L1322 846L1322.5 857.5L1323 846L1323.5 848.7M1325 846L1325.5 857.5L1326 846L1326.5 857.5M1329 846L1329.5 857.5L1330 846L1330.5 857.5L1331 846L1331.5 857.5L1332 846L1332.5 857.5L1333 846L1333.5 857.5L1334 846L1334.5 857.5L1335 846L1335.5 857.5L1336 846L1336.5 857.5L1337 846L1337.5 857.5L1338 846L1338.5 857.5L1339 846L1339.5 857.5L1340 846L1340.5 857.5L1341 846L1341.5 857.5M1344 846L1344.5 850.5L1345 846L1345.5 857.5L1346 846L1346.5 857.5L1347 846L1347.5 857.5L1348 846L1348.5 857.5L1349 846L1349.5 857.5L1350 846L1350.5 857.5L1351 846L1351.5 850.3L1352 846L1352.5 857.5L1353 846L1353.5 857.5L1354 846L1354.5 857.5L1355 846L1355.5 857.5L1356 846L1356.5 857.5L1357 846L1357.5 857.5L1358 846L1358.5 857.5L1359 846L1359.5 857.5L1360 846L1360.5 857.5L1361 846L1361.5 857.5L1362 846L1362.5 857.5L1363 846L1363.5 857.5L1364 846L1364.5 857.5L1365 846L1365.5 857.5L1366 846L1366.5 857.5L1367 846L1367.5 848L1368 846L1368.5 850.8L1369 846L1369.5 857.5L1370 846L1370.5 857.5L1371 846L1371.5 851.8L1372 846L1372.5 857.5L1373 846L1373.5 857.5L1374 846L1374.5 857.5L1375 846L1375.5 857.5L1376 846L1376.5 857.5L1377 846L1377.5 857.5L1378 846L1378.5 857.5L1379 846L1379.5 857.5L1380 846L1380.5 857.5L1381 846L1381.5 857.5L1382 846L1382.5 857.5M1385 846L1385.5 857.5L1386 846L1386.5 857.5L1387 846L1387.5 857.5L1388 846L1388.5 857.5L1389 846L1389.5 857.5M1393 846L1393.5 857.5L1394 846L1394.5 857.5L1395 846L1395.5 857.5L1396 846L1396.5 857.5L1397 846L1397.5 857.5L1398 846L1398.5 857.5L1399 846L1399.5 857.5L1400 846L1400.5 857.5L1401 846L1401.5 857.5L1402 846L1402.5 857.5L1403 846L1403.5 857.5L1404 846L1404.5 857.5L1405 846L1405.5 849.8L1406 846L1406.5 857.5M1409 846L1409.5 857.5L1410 846L1410.5 857.5L1411 846L1411.5 857.5L1412 846L1412.5 857.5L1413 846L1413.5 857.5L1414 846L1414.5 857.5L1415 846L1415.5 857.5L1416 846L1416.5 857.5L1417 846L1417.5 857.5L1418 846L1418.5 857.5L1419 846L1419.5 857.5L1420 846L1420.5 851.1L1421 846L1421.5 857.5L1422 846L1422.5 857.5L1423 846L1423.5 850.7L1424 846L1424.5 857.5M1426 846L1426.5 857.5L1427 846L1427.5 857.5L1428 846L1428.5 857.5L1429 846L1429.5 857.5L1430 846L1430.5 857.5L1431 846L1431.5 857.5M1434 846L1434.5 850.7L1435 846L1435.5 857.5L1436 846L1436.5 857.5L1437 846L1437.5 857.5L1438 846L1438.5 857.5L1439 846L1439.5 857.5L1440 846L1440.5 857.5L1441 846L1441.5 857.5L1442 846L1442.5 857.5M1444 846L1444.5 857.5L1445 846L1445.5 857.5L1446 846L1446.5 857.5L1447 846L1447.5 857.5M1453 846L1453.5 857.5L1454 846L1454.5 857.5L1455 846L1455.5 857.5L1456 846L1456.5 857.5L1457 846L1457.5 857.5L1458 846L1458.5 857.5L1459 846L1459.5 857.5L1460 846L1460.5 846.1L1461 846L1461.5 857.5L1462 846L1462.5 857.5L1463 846L1463.5 857.5L1464 846L1464.5 857.5L1465 846L1465.5 857.5L1466 846L1466.5 857.5L1467 846L1467.5 857.5L1468 846L1468.5 857.5L1469 846L1469.5 849.7L1470 846L1470.5 857.5L1471 846L1471.5 857.5L1472 846L1472.5 857.5L1473 846L1473.5 857.5L1474 846L1474.5 857.5L1475 846L1475.5 857.5L1476 846L1476.5 857.5L1477 846L1477.5 857.5L1478 846L1478.5 857.5L1479 846L1479.5 857.5L1480 846L1480.5 847.8L1481 846L1481.5 857.5L1482 846L1482.5 857.5L1483 846L1483.5 857.5L1484 846L1484.5 857.5L1485 846L1485.5 857.5L1486 846L1486.5 857.5L1487 846L1487.5 857.5L1488 846L1488.5 857.5M1493 846L1493.5 857.5L1494 846L1494.5 857.5L1495 846L1495.5 857.5L1496 846L1496.5 857.5L1497 846L1497.5 857.5L1498 846L1498.5 857.5L1499 846L1499.5 857.5L1500 846L1500.5 857.5L1501 846L1501.5 857.5L1502 846L1502.5 857.5L1503 846L1503.5 857.5L1504 846L1504.5 857.5L1505 846L1505.5 857.5L1506 846L1506.5 850.8L1507 846L1507.5 857.5L1508 846L1508.5 857.5L1509 846L1509.5 857.5L1510 846L1510.5 857.5L1511 846L1511.5 857.5L1512 846L1512.5 857.5L1513 846L1513.5 857.5L1514 846L1514.5 857.5L1515 846L1515.5 857.5L1516 844.1L1516.5 847.4L1517 842.7L1517.5 857.5L1518 844.2L1518.5 857.5L1519 844.1L1519.5 844.7L1520 843.8L1520.5 857.5M1526 839.7L1526.5 857.5L1527 840.5L1527.5 857.5L1528 840.6L1528.5 857.5L1529 845.7L1529.5 857.5L1530 841.3L1530.5 857.5L1531 844.9L1531.5 857.5L1532 844.1L1532.5 857.5L1533 838L1533.5 857.5L1534 843.6L1534.5 857.5L1535 841.4L1535.5 857.5L1536 844.2L1536.5 857.5L1537 844.6L1537.5 857.5L1538 840.3L1538.5 857.5L1539 839.9L1539.5 843L1540 837.5L1540.5 857.5L1541 839.4L1541.5 857.5L1542 839.4L1542.5 857.5L1543 837.9L1543.5 857.5L1544 837.8L1544.5 857.5L1545 837.5L1545.5 857.5L1546 838.6L1546.5 844L1547 836.9L1547.5 857.5L1548 836.8L1548.5 857.5L1549 844.2L1549.5 857.5M1551 837.4L1551.5 857.5L1552 843.4L1552.5 857.5L1553 843.2L1553.5 857.5L1554 836.6L1554.5 857.5L1555 835.9L1555.5 857.5L1556 845.2L1556.5 849.1L1557 834.1L1557.5 857.5M1560 835.5L1560.5 841.1L1561 836.3L1561.5 857.5L1562 836.3L1562.5 857.5L1563 845.1L1563.5 857.5L1564 833.6L1564.5 837.2L1565 843.3L1565.5 857.5L1566 836.3L1566.5 857.5L1567 845.1L1567.5 857.5L1568 836L1568.5 857.5M1571 837.7L1571.5 857.5L1572 836L1572.5 837.1L1573 838.1L1573.5 857.5M1576 839.2L1576.5 857.5L1577 838.4L1577.5 857.5L1578 837.6L1578.5 857.5L1579 837.9L1579.5 857.5L1580 845.7L1580.5 857.5L1581 837.9L1581.5 857.5L1582 838.1L1582.5 857.5L1583 844.8L1583.5 857.5L1584 844.8L1584.5 857.5L1585 843.4L1585.5 857.5L1586 839.4L1586.5 857.5L1587 840L1587.5 844.8L1588 840.6L1588.5 845.1L1589 840.3L1589.5 857.5L1590 841.6L1590.5 857.5L1591 844L1591.5 857.5L1592 845.9L1592.5 857.5L1593 844.2L1593.5 857.5L1594 841.9L1594.5 857.5L1595 843.5L1595.5 857.5L1596 842.3L1596.5 857.5L1597 841.1L1597.5 857.5L1598 841L1598.5 857.5L1599 841.5L1599.5 857.5L1600 841.5L1600.5 857.5L1601 844.2L1601.5 857.5L1602 843.3L1602.5 857.5L1603 841L1603.5 857.5M1606 846L1606.5 857.5L1607 846L1607.5 857.5L1608 846L1608.5 857.5L1609 846L1609.5 857.5M1611 846L1611.5 857.5L1612 846L1612.5 850L1613 846L1613.5 857.5L1614 846L1614.5 857.5" stroke="#1FA8C9" stroke-width="1.15" fill="none" stroke-linejoin="round"/>
<path d="M929 841.8L929.5 846L930 844.9L930.5 846L931 841.6L931.5 846L932 844.2L932.5 846L933 844L933.5 846L934 843.8L934.5 846L935 841.7L935.5 846L936 796L936.5 846L937 845.2L937.5 846L938 843.9L938.5 857.5L939 833.5L939.5 846L940 815.4L940.5 846L941 846L941.5 857.5L942 845.9L942.5 846L943 831.5L943.5 846L944 836.7L944.5 846L945 837.2L945.5 846L946 841.7L946.5 846L947 822.5L947.5 846L948 845.4L948.5 846L949 845.2L949.5 846L950 844.9L950.5 846L951 843L951.5 846L952 833.6L952.5 846L953 843.2L953.5 846L954 845.7L954.5 846L955 845.8L955.5 846L956 838.2L956.5 846L957 845.1L957.5 846L958 845.8L958.5 846L959 842.2L959.5 846L960 843.8L960.5 846L961 845.2L961.5 846L962 835.7L962.5 846L963 845.6L963.5 846L964 844.3L964.5 846L965 843.2L965.5 846L966 812.3L966.5 846L967 845.1L967.5 846L968 844.8L968.5 846L969 843.3L969.5 846L970 839.3L970.5 846L971 844.8L971.5 857.5L972 843.6L972.5 846L973 844.3L973.5 857.5L974 843.4L974.5 846L975 837.8L975.5 846L976 844.3L976.5 846L977 843.6L977.5 857.5L978 843.6L978.5 857.5L979 834L979.5 846L980 841.6L980.5 846L981 844.1L981.5 846L982 835.3L982.5 846L983 843.7L983.5 846L984 845L984.5 846L985 815L985.5 846L986 844.4L986.5 846L987 843.9L987.5 846L988 844.8L988.5 846L989 844L989.5 846L990 843.6L990.5 846L991 843.3L991.5 846L992 844.4L992.5 846L993 844.7L993.5 846L994 845.6L994.5 846L995 820L995.5 846L996 845.5L996.5 846L997 840.1L997.5 846L998 841.9L998.5 846L999 843.7L999.5 846L1000 838.4L1000.5 846L1001 843.3L1001.5 846L1002 845.7L1002.5 846L1003 832.8L1003.5 846L1004 801L1004.5 846L1005 827.5L1005.5 846L1006 827L1006.5 846L1007 798L1007.5 846L1008 844.8L1008.5 846L1009 844L1009.5 846L1010 845.7L1010.5 846L1011 844.8L1011.5 857.5L1012 822L1012.5 846L1013 843.6L1013.5 857.5L1014 843.3L1014.5 846L1015 843.3L1015.5 846L1016 845.3L1016.5 846L1017 843.4L1017.5 846L1018 843.7L1018.5 846L1019 801.4L1019.5 846L1020 836.8L1020.5 846L1021 845.8L1021.5 846L1022 845.5L1022.5 846L1023 841.5L1023.5 846L1024 836.9L1024.5 846L1025 843.3L1025.5 846L1026 845.8L1026.5 846L1027 844.4L1027.5 846L1028 845.4L1028.5 846L1029 829L1029.5 846L1030 834.1L1030.5 846L1031 837.7L1031.5 846L1032 837.8L1032.5 846L1033 836.9L1033.5 846L1034 807L1034.5 846L1035 844.6L1035.5 846L1036 843.5L1036.5 846L1037 846L1037.5 846L1038 761.8L1038.5 846L1039 838.4L1039.5 846L1040 843L1040.5 846L1041 832.3L1041.5 846L1042 826.8L1042.5 846L1043 841.5L1043.5 846L1044 841.1L1044.5 846L1045 835L1045.5 846L1046 844.7L1046.5 846L1047 817L1047.5 846L1048 845.6L1048.5 846L1049 845.5L1049.5 846L1050 838.4L1050.5 846L1051 845.7L1051.5 846L1052 843L1052.5 846L1053 827.3L1053.5 846L1054 832L1054.5 846L1055 836.4L1055.5 846L1056 758L1056.5 846L1057 826.3L1057.5 846L1058 832.7L1058.5 846L1059 745.7L1059.5 846L1060 836.6L1060.5 846L1061 843.6L1061.5 846L1062 844.2L1062.5 846L1063 799L1063.5 846L1064 844.9L1064.5 846L1065 845.6L1065.5 846L1066 844.5L1066.5 846L1067 845.4L1067.5 846L1068 845.4L1068.5 857.5L1069 805L1069.5 846L1070 843.2L1070.5 846L1071 844.6L1071.5 846L1072 841.6L1072.5 846L1073 844.4L1073.5 846L1074 844.3L1074.5 846L1075 833.1L1075.5 846L1076 844.2L1076.5 857.5L1077 845.1L1077.5 846L1078 834.7L1078.5 857.5L1079 845.8L1079.5 846L1080 820L1080.5 846L1081 830.5L1081.5 846L1082 829.3L1082.5 846L1083 835L1083.5 846L1084 833.3L1084.5 846L1085 840.4L1085.5 846L1086 844.1L1086.5 857.5L1087 845.6L1087.5 846L1088 844.6L1088.5 846L1089 843.9L1089.5 846L1090 843.7L1090.5 846L1091 843L1091.5 846L1092 843.4L1092.5 846L1093 844.7L1093.5 846L1094 843.3L1094.5 846L1095 844.4L1095.5 846L1096 843.3L1096.5 846L1097 845.8L1097.5 846L1098 843.3L1098.5 846L1099 844.2L1099.5 846L1100 826L1100.5 846L1101 845.8L1101.5 846L1102 838L1102.5 846L1103 845.8L1103.5 846L1104 844.4L1104.5 846L1105 839L1105.5 846L1106 833.9L1106.5 846L1107 844L1107.5 846L1108 844.7L1108.5 846L1109 845.3L1109.5 846L1110 844.3L1110.5 846L1111 845.7L1111.5 846L1112 845.6L1112.5 846L1113 843.1L1113.5 846L1114 845.3L1114.5 846L1115 828L1115.5 846L1116 840.6L1116.5 846L1117 837.8L1117.5 846L1118 837.5L1118.5 846L1119 829.8L1119.5 846L1120 831.2L1120.5 857.5L1121 843.4L1121.5 846L1122 846L1122.5 846L1123 843.9L1123.5 846L1124 844.4L1124.5 846L1125 823L1125.5 846L1126 845.1L1126.5 846L1127 843.1L1127.5 846L1128 834.2L1128.5 846L1129 843.1L1129.5 846L1130 844.8L1130.5 846L1131 841.8L1131.5 846L1132 845.2L1132.5 846L1133 844.5L1133.5 846L1134 835L1134.5 846L1135 833.2L1135.5 846L1136 841.7L1136.5 846L1137 845.8L1137.5 846L1138 763L1138.5 846L1139 844.7L1139.5 846L1140 841.1L1140.5 857.5L1141 845.9L1141.5 846L1142 836.8L1142.5 846L1143 844.2L1143.5 846L1144 843.3L1144.5 846L1145 815L1145.5 846L1146 829.7L1146.5 846L1147 844.5L1147.5 846L1148 843.9L1148.5 846L1149 843.1L1149.5 846L1150 841.3L1150.5 846L1151 845.3L1151.5 846L1152 826L1152.5 846L1153 843.6L1153.5 846L1154 840.8L1154.5 846L1155 844.5L1155.5 846L1156 844.2L1156.5 846L1157 839.9L1157.5 846L1158 834.6L1158.5 846L1159 844.7L1159.5 846L1160 820L1160.5 846L1161 844.3L1161.5 846L1162 843.6L1162.5 846L1163 839.9L1163.5 846L1164 845.1L1164.5 846L1165 834.3L1165.5 846L1166 836.6L1166.5 846L1167 841L1167.5 846L1168 839.2L1168.5 846L1169 837.6L1169.5 846L1170 841.8L1170.5 846L1171 786L1171.5 846L1172 830L1172.5 857.5L1173 837.5L1173.5 846L1174 820.7L1174.5 846L1175 844.8L1175.5 857.5L1176 821.4L1176.5 846L1177 829.7L1177.5 846L1178 835.3L1178.5 846L1179 845.1L1179.5 846L1180 808L1180.5 846L1181 824.1L1181.5 846L1182 830.8L1182.5 846L1183 843.4L1183.5 846L1184 829.1L1184.5 846L1185 838.1L1185.5 846L1186 831.7L1186.5 846L1187 843.2L1187.5 846L1188 830.5L1188.5 846L1189 841L1189.5 857.5L1190 812L1190.5 857.5L1191 839.5L1191.5 857.5L1192 834.4L1192.5 846L1193 839.3L1193.5 846L1194 843.2L1194.5 846L1195 838.5L1195.5 846L1196 844.1L1196.5 846L1197 830.2L1197.5 846L1198 838.9L1198.5 846L1199 839L1199.5 846L1200 836.6L1200.5 846L1201 843.8L1201.5 846L1202 816.6L1202.5 846L1203 815.6L1203.5 846L1204 815.6L1204.5 846L1205 832.4L1205.5 846L1206 842.5L1206.5 846L1207 842L1207.5 846L1208 815L1208.5 846L1209 839L1209.5 846L1210 822.4L1210.5 846L1211 835.7L1211.5 846L1212 838.4L1212.5 846L1213 839.9L1213.5 846L1214 831.8L1214.5 846L1215 838.6L1215.5 846L1216 843.6L1216.5 846L1217 841.3L1217.5 846L1218 819.2L1218.5 846L1219 832.5L1219.5 857.5L1220 806L1220.5 846L1221 834.7L1221.5 846L1222 844L1222.5 846L1223 838.2L1223.5 846L1224 843.7L1224.5 846L1225 841L1225.5 846L1226 842.4L1226.5 846L1227 843.7L1227.5 846L1228 839.3L1228.5 846L1229 842.2L1229.5 857.5L1230 830.8L1230.5 857.5L1231 841.4L1231.5 857.5L1232 793L1232.5 846L1233 833.5L1233.5 846L1234 842.5L1234.5 846L1235 841.9L1235.5 846L1236 831.3L1236.5 846L1237 814.4L1237.5 846L1238 841L1238.5 846L1239 842L1239.5 846L1240 812L1240.5 846L1241 823.8L1241.5 846L1242 842L1242.5 846L1243 836.7L1243.5 857.5L1244 831.4L1244.5 857.5L1245 842.9L1245.5 857.5L1246 819.2L1246.5 846L1247 821.6L1247.5 846L1248 829.8L1248.5 846L1249 833.5L1249.5 846L1250 842.3L1250.5 846L1251 839.6L1251.5 846L1252 824.7L1252.5 846L1253 842.9L1253.5 846L1254 830.7L1254.5 846L1255 844.4L1255.5 846L1256 834.3L1256.5 846L1257 814.9L1257.5 846L1258 833.6L1258.5 846L1259 843.8L1259.5 846L1260 825.7L1260.5 846L1261 843.4L1261.5 846L1262 843.4L1262.5 846L1263 835.8L1263.5 846L1264 842.1L1264.5 846L1265 841.1L1265.5 846L1266 839.2L1266.5 846L1267 841.2L1267.5 846L1268 820L1268.5 846L1269 831.9L1269.5 846L1270 843.3L1270.5 846L1271 832.5L1271.5 846L1272 836L1272.5 846L1273 822.4L1273.5 846L1274 841.4L1274.5 846L1275 834.8L1275.5 846L1276 842.5L1276.5 857.5L1277 835.9L1277.5 857.5L1278 843L1278.5 857.5L1279 818.7L1279.5 857.5L1280 842.3L1280.5 846L1281 843L1281.5 846L1282 842.1L1282.5 846L1283 829.6L1283.5 846L1284 835.7L1284.5 846L1285 830.7L1285.5 846L1286 842.3L1286.5 846L1287 836.3L1287.5 857.5L1288 843.6L1288.5 857.5L1289 845.4L1289.5 846L1290 838.6L1290.5 846L1291 840.6L1291.5 846L1292 694L1292.5 846L1293 843.3L1293.5 846L1294 815.1L1294.5 846L1295 842.8L1295.5 846L1296 840.6L1296.5 846L1297 837.9L1297.5 846L1298 842.9L1298.5 846L1299 832.1L1299.5 846L1300 836.8L1300.5 846L1301 835.8L1301.5 846L1302 842.2L1302.5 846L1303 836L1303.5 846L1304 840.6L1304.5 846L1305 842.5L1305.5 846L1306 844.9L1306.5 846L1307 840.8L1307.5 846L1308 844.6L1308.5 846L1309 823.3L1309.5 846L1310 818L1310.5 846L1311 834.1L1311.5 846L1312 845.1L1312.5 846L1313 840.7L1313.5 846L1314 844.2L1314.5 846L1315 836.9L1315.5 846L1316 844.3L1316.5 846L1317 843.9L1317.5 846L1318 840.6L1318.5 846L1319 845L1319.5 846L1320 823L1320.5 857.5L1321 843.7L1321.5 846L1322 833L1322.5 846L1323 835.9L1323.5 846L1324 821.7L1324.5 857.5L1325 835.3L1325.5 846L1326 843.4L1326.5 846L1327 839.3L1327.5 846L1328 835.1L1328.5 857.5L1329 842.4L1329.5 846L1330 826L1330.5 846L1331 828.8L1331.5 846L1332 841.4L1332.5 846L1333 834.1L1333.5 846L1334 842L1334.5 846L1335 845L1335.5 846L1336 840.3L1336.5 846L1337 844.2L1337.5 846L1338 845L1338.5 846L1339 830.7L1339.5 846L1340 844.5L1340.5 846L1341 844.4L1341.5 846L1342 833.2L1342.5 857.5L1343 836.7L1343.5 857.5L1344 832.9L1344.5 846L1345 840.5L1345.5 846L1346 841.7L1346.5 846L1347 841.4L1347.5 846L1348 835.9L1348.5 846L1349 844.9L1349.5 846L1350 835.4L1350.5 846L1351 837.7L1351.5 846L1352 845.1L1352.5 846L1353 839.4L1353.5 846L1354 845L1354.5 846L1355 843.1L1355.5 846L1356 838.6L1356.5 846L1357 834.5L1357.5 846L1358 844.7L1358.5 846L1359 838.2L1359.5 846L1360 841.8L1360.5 846L1361 841.4L1361.5 846L1362 840.9L1362.5 846L1363 825.5L1363.5 846L1364 843.6L1364.5 846L1365 822L1365.5 846L1366 843.2L1366.5 846L1367 839.9L1367.5 846L1368 841.8L1368.5 846L1369 845L1369.5 846L1370 843.3L1370.5 846L1371 819.2L1371.5 846L1372 830L1372.5 846L1373 830L1373.5 846L1374 844.4L1374.5 846L1375 825.7L1375.5 846L1376 844.2L1376.5 846L1377 826.2L1377.5 846L1378 845.7L1378.5 846L1379 838L1379.5 846L1380 844.9L1380.5 846L1381 845L1381.5 846L1382 834.5L1382.5 846L1383 821L1383.5 846L1384 843.2L1384.5 846L1385 844.1L1385.5 846L1386 842.4L1386.5 846L1387 845.1L1387.5 846L1388 841.8L1388.5 846L1389 844.9L1389.5 846L1390 818L1390.5 846L1391 834.8L1391.5 846L1392 843L1392.5 857.5L1393 838.8L1393.5 846L1394 834.9L1394.5 846L1395 844.2L1395.5 846L1396 837.8L1396.5 846L1397 840.5L1397.5 846L1398 829.9L1398.5 846L1399 839.9L1399.5 846L1400 844.2L1400.5 846L1401 816.5L1401.5 846L1402 833.5L1402.5 846L1403 844L1403.5 846L1404 840.8L1404.5 846L1405 842.1L1405.5 846L1406 826.5L1406.5 846L1407 840.2L1407.5 857.5L1408 814L1408.5 846L1409 843.9L1409.5 846L1410 842.7L1410.5 846L1411 843L1411.5 846L1412 842.8L1412.5 846L1413 840.9L1413.5 846L1414 837.3L1414.5 846L1415 808L1415.5 846L1416 844.2L1416.5 846L1417 844.2L1417.5 846L1418 837.2L1418.5 846L1419 840.6L1419.5 846L1420 843.8L1420.5 846L1421 833.6L1421.5 846L1422 820.7L1422.5 846L1423 833.1L1423.5 846L1424 818.6L1424.5 846L1425 812L1425.5 846L1426 835.7L1426.5 846L1427 844L1427.5 846L1428 838.8L1428.5 846L1429 836L1429.5 846L1430 827.7L1430.5 846L1431 839.9L1431.5 846L1432 838.1L1432.5 857.5L1433 817.5L1433.5 857.5L1434 838.5L1434.5 846L1435 838.9L1435.5 846L1436 838.6L1436.5 846L1437 776.5L1437.5 846L1438 835.1L1438.5 846L1439 830.4L1439.5 846L1440 828.8L1440.5 846L1441 830.9L1441.5 846L1442 843.4L1442.5 846L1443 841L1443.5 846L1444 830.9L1444.5 846L1445 819L1445.5 846L1446 845.7L1446.5 846L1447 845.8L1447.5 846L1448 835.8L1448.5 857.5L1449 841.1L1449.5 857.5L1450 839.4L1450.5 846L1451 801.4L1451.5 857.5L1452 815L1452.5 857.5L1453 837.7L1453.5 846L1454 836.7L1454.5 846L1455 845.6L1455.5 846L1456 842.7L1456.5 846L1457 843.7L1457.5 846L1458 840.8L1458.5 846L1459 836.7L1459.5 846L1460 815L1460.5 846L1461 838.1L1461.5 846L1462 833.4L1462.5 846L1463 841.8L1463.5 846L1464 838.2L1464.5 846L1465 840.2L1465.5 846L1466 842.9L1466.5 846L1467 845.6L1467.5 846L1468 845.7L1468.5 846L1469 842.2L1469.5 846L1470 842.8L1470.5 846L1471 821.8L1471.5 846L1472 841.4L1472.5 846L1473 819.5L1473.5 846L1474 840.7L1474.5 846L1475 803.8L1475.5 846L1476 834.8L1476.5 846L1477 812.8L1477.5 846L1478 838.4L1478.5 846L1479 840.9L1479.5 846L1480 843.8L1480.5 846L1481 841.1L1481.5 846L1482 828.9L1482.5 846L1483 831.9L1483.5 846L1484 833.7L1484.5 846L1485 826.1L1485.5 846L1486 841.3L1486.5 846L1487 842.8L1487.5 846L1488 783.6L1488.5 846L1489 836.1L1489.5 846L1490 843.9L1490.5 846L1491 843.8L1491.5 857.5L1492 842.4L1492.5 857.5L1493 843.4L1493.5 846L1494 842.1L1494.5 846L1495 844.8L1495.5 846L1496 822.6L1496.5 846L1497 836.7L1497.5 846L1498 842.9L1498.5 846L1499 832.3L1499.5 846L1500 808L1500.5 846L1501 830.2L1501.5 846L1502 843.2L1502.5 846L1503 825.8L1503.5 846L1504 835.5L1504.5 846L1505 839.8L1505.5 846L1506 834.5L1506.5 846L1507 829.1L1507.5 846L1508 832.1L1508.5 846L1509 835L1509.5 846L1510 835.2L1510.5 846L1511 843.7L1511.5 846L1512 843.8L1512.5 846L1513 843.5L1513.5 846L1514 843.4L1514.5 846L1515 840.3L1515.5 846L1516 827.8L1516.5 844.1L1517 831.7L1517.5 842.7L1518 838.1L1518.5 844.2L1519 836.8L1519.5 844.1L1520 833.1L1520.5 843.8L1521 824.1L1521.5 857.5L1522 806.7L1522.5 857.5L1523 829.5L1523.5 857.5L1524 836.9L1524.5 857.5L1525 827.4L1525.5 857.5L1526 805.6L1526.5 839.7L1527 832.9L1527.5 840.5L1528 803.8L1528.5 840.6L1529 841.1L1529.5 845.7L1530 800L1530.5 841.3L1531 814.3L1531.5 844.9L1532 837L1532.5 844.1L1533 804.1L1533.5 838L1534 834.1L1534.5 843.6L1535 817.6L1535.5 841.4L1536 840.6L1536.5 844.2L1537 835.3L1537.5 844.6L1538 817.3L1538.5 840.3L1539 834.3L1539.5 839.9L1540 834L1540.5 837.5L1541 837.2L1541.5 839.4L1542 835.8L1542.5 839.4L1543 834.3L1543.5 837.9L1544 836.8L1544.5 837.8L1545 800.6L1545.5 837.5L1546 820.1L1546.5 838.6L1547 835.8L1547.5 836.9L1548 816.5L1548.5 836.8L1549 838.9L1549.5 844.2L1550 790L1550.5 857.5L1551 798.3L1551.5 837.4L1552 836.2L1552.5 843.4L1553 832.6L1553.5 843.2L1554 799.8L1554.5 836.6L1555 819.8L1555.5 835.9L1556 833.5L1556.5 845.2L1557 800L1557.5 834.1L1558 816.4L1558.5 833.3L1559 825.2L1559.5 835.7L1560 821.3L1560.5 835.5L1561 832L1561.5 836.3L1562 831.2L1562.5 836.3L1563 824.9L1563.5 845.1L1564 800.4L1564.5 833.6L1565 827.5L1565.5 843.3L1566 833.9L1566.5 836.3L1567 790L1567.5 845.1L1568 829.2L1568.5 836L1569 834.1L1569.5 837.5L1570 832.6L1570.5 857.5L1571 816.9L1571.5 837.7L1572 833.3L1572.5 836L1573 830L1573.5 838.1L1574 834.2L1574.5 857.5L1575 814.5L1575.5 835.9L1576 771.8L1576.5 839.2L1577 803.3L1577.5 838.4L1578 799.2L1578.5 837.6L1579 809.8L1579.5 837.9L1580 840.6L1580.5 845.7L1581 827.4L1581.5 837.9L1582 834.6L1582.5 838.1L1583 800L1583.5 844.8L1584 827.5L1584.5 844.8L1585 840.7L1585.5 843.4L1586 835.7L1586.5 839.4L1587 836.5L1587.5 840L1588 837.6L1588.5 840.6L1589 834.8L1589.5 840.3L1590 841.2L1590.5 841.6L1591 832L1591.5 844L1592 829.4L1592.5 845.9L1593 841.4L1593.5 844.2L1594 819.3L1594.5 841.9L1595 836.2L1595.5 843.5L1596 835.8L1596.5 842.3L1597 833.9L1597.5 841.1L1598 836.4L1598.5 841L1599 805.9L1599.5 841.5L1600 810L1600.5 841.5L1601 822.6L1601.5 844.2L1602 839.2L1602.5 843.3L1603 832.6L1603.5 841L1604 820.9L1604.5 842.1L1605 832L1605.5 846L1606 834.2L1606.5 846L1607 834.7L1607.5 846L1608 815L1608.5 846L1609 830.3L1609.5 846L1610 843.5L1610.5 857.5L1611 813.9L1611.5 846L1612 843.4L1612.5 846L1613 842.7L1613.5 846L1614 843.3L1614.5 846" stroke="#454E7C" stroke-width="1.6" fill="none" stroke-linejoin="round"/>
</g>
<path d="M434 857.5H1615" stroke="#6e7079" stroke-width="1.2"/>
<text x="629.5" y="874" text-anchor="middle" font-size="12.5" fill="#6e7079" font-family="Liberation Sans">1979</text>
<text x="833.3" y="874" text-anchor="middle" font-size="12.5" fill="#6e7079" font-family="Liberation Sans">1988</text>
<text x="1036.3" y="874" text-anchor="middle" font-size="12.5" fill="#6e7079" font-family="Liberation Sans">1997</text>
<text x="1239.5" y="874" text-anchor="middle" font-size="12.5" fill="#6e7079" font-family="Liberation Sans">2006</text>
<text x="1442.5" y="874" text-anchor="middle" font-size="12.5" fill="#6e7079" font-family="Liberation Sans">2015</text>
<path d="M629.5 857.5V862M833.3 857.5V862M1036.3 857.5V862M1239.5 857.5V862M1442.5 857.5V862" stroke="#6e7079" stroke-width="1"/>
</svg>
<svg class="a" style="left:1313px;top:240px" width="26" height="14" viewBox="0 0 26 14"><path d="M0 7H7.5M17.5 7H26" stroke="#1FA8C9" stroke-width="2"/><circle cx="12.5" cy="7" r="5" stroke="#1FA8C9" stroke-width="2" fill="#fff"/></svg>
<div class="a" style="left:1343.5px;top:240px;font-size:12px;color:#555">1.0</div>
<svg class="a" style="left:1371px;top:240px" width="26" height="14" viewBox="0 0 26 14"><path d="M0 7H7.5M17.5 7H26" stroke="#454E7C" stroke-width="2"/><circle cx="12.5" cy="7" r="5" stroke="#454E7C" stroke-width="2" fill="#fff"/></svg>
<div class="a" style="left:1401.5px;top:240px;font-size:12px;color:#555">2.0</div>
<svg class="a" style="left:1429px;top:240px" width="26" height="14" viewBox="0 0 26 14"><path d="M0 7H7.5M17.5 7H26" stroke="#5AC189" stroke-width="2"/><circle cx="12.5" cy="7" r="5" stroke="#5AC189" stroke-width="2" fill="#fff"/></svg>
<div class="a" style="left:1459.5px;top:240px;font-size:12px;color:#555">3.0</div>
<svg class="a" style="left:1487px;top:240px" width="26" height="14" viewBox="0 0 26 14"><path d="M0 7H7.5M17.5 7H26" stroke="#FF7F44" stroke-width="2"/><circle cx="12.5" cy="7" r="5" stroke="#FF7F44" stroke-width="2" fill="#fff"/></svg>
<div class="a" style="left:1517.5px;top:240px;font-size:12px;color:#555">4.0</div>
<svg class="a" style="left:1545px;top:240px" width="26" height="14" viewBox="0 0 26 14"><path d="M0 7H7.5M17.5 7H26" stroke="#666666" stroke-width="2"/><circle cx="12.5" cy="7" r="5" stroke="#666666" stroke-width="2" fill="#fff"/></svg>
<div class="a" style="left:1575.5px;top:240px;font-size:12px;color:#555">5.0</div>
<svg class="a" style="left:1603px;top:240px" width="26" height="14" viewBox="0 0 26 14"><path d="M0 7H7.5M17.5 7H26" stroke="#E04355" stroke-width="2"/><circle cx="12.5" cy="7" r="5" stroke="#E04355" stroke-width="2" fill="#fff"/></svg>
<div class="a" style="left:1633.5px;top:240px;font-size:12px;color:#555">6.0</div>
<div class="a" style="left:1174px;top:547px;width:95px;height:64px;border-radius:4px;background:rgba(255,255,255,0.8);box-shadow:0 0 6px rgba(0,0,0,0.04)"></div>
<div class="a" style="left:1185px;top:561px;font-size:13.7px;color:#d0d0d0;white-space:nowrap">2002-03-21</div>
<div class="a" style="left:1185px;top:585px;width:10px;height:10px;border-radius:5px;background:#daeff5"></div>
<div class="a" style="left:1200px;top:582px;font-size:13.7px;color:#d8d8d8;white-space:nowrap">1.0: 74</div>
</body></html>
